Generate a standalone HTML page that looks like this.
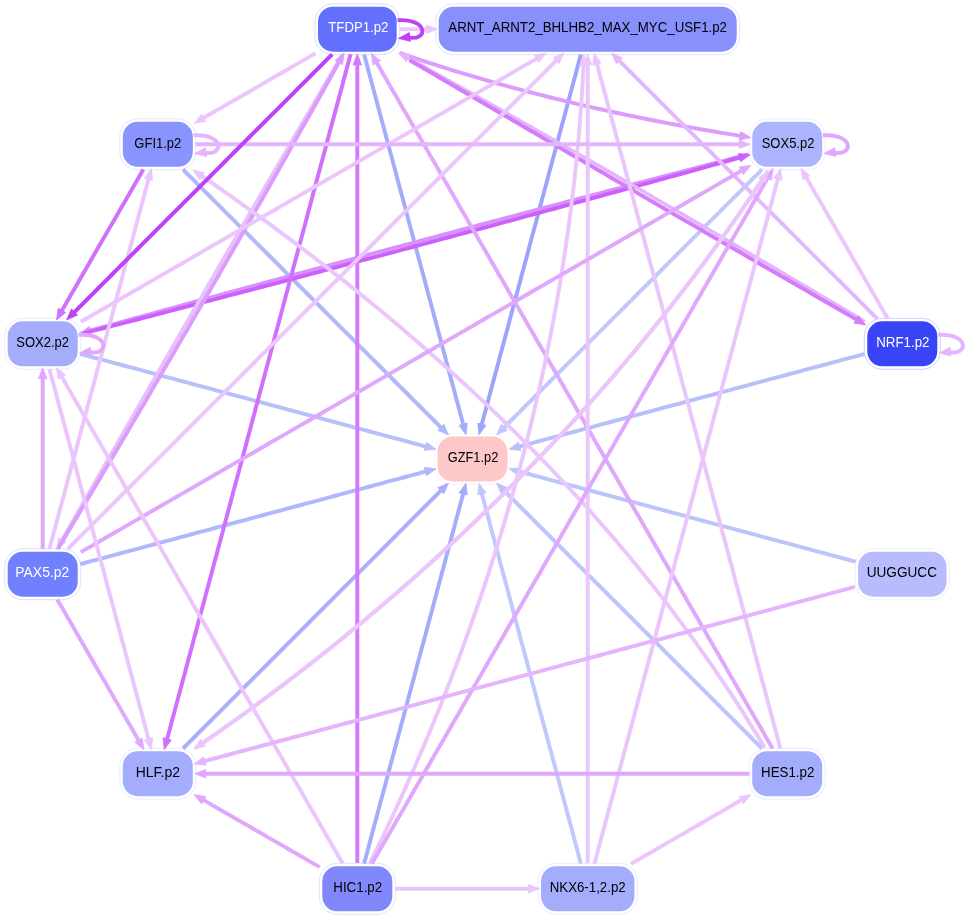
<!DOCTYPE html>
<html><head><meta charset="utf-8"><style>
html,body{margin:0;padding:0;background:#fff;}
svg{display:block;}
text{font-family:"Liberation Sans",sans-serif;font-size:14px;}
</style></head><body>
<svg width="969" height="919" viewBox="0 0 969 919">
<rect width="969" height="919" fill="#fff"/>
<g style="opacity:0.999">
<rect x="315.0" y="3.7" width="84.7" height="51.0" rx="18.0" fill="#fff" stroke="#6370fe" stroke-opacity="0.3" stroke-width="0.8"/>
<rect x="318.0" y="6.7" width="78.7" height="45.0" rx="15" fill="#6370fe"/>
<text transform="translate(358.33,32.46) scale(0.943,1)" fill="#fff" text-anchor="middle">TFDP1.p2</text>
<rect x="435.7" y="3.7" width="304.0" height="51.0" rx="18.0" fill="#fff" stroke="#8890fc" stroke-opacity="0.3" stroke-width="0.8"/>
<rect x="438.7" y="6.7" width="298.0" height="45.0" rx="15" fill="#8890fc"/>
<text transform="translate(587.67,32.46) scale(0.949,1)" fill="#000" text-anchor="middle">ARNT_ARNT2_BHLHB2_MAX_MYC_USF1.p2</text>
<rect x="119.8" y="118.8" width="76.0" height="51.0" rx="18.0" fill="#fff" stroke="#8a94fe" stroke-opacity="0.3" stroke-width="0.8"/>
<rect x="122.8" y="121.8" width="70.0" height="45.0" rx="15" fill="#8a94fe"/>
<text transform="translate(157.84,147.64) scale(0.929,1)" fill="#000" text-anchor="middle">GFI1.p2</text>
<rect x="749.2" y="118.8" width="76.0" height="51.0" rx="18.0" fill="#fff" stroke="#acb4fe" stroke-opacity="0.3" stroke-width="0.8"/>
<rect x="752.2" y="121.8" width="70.0" height="45.0" rx="15" fill="#acb4fe"/>
<text transform="translate(788.06,147.64) scale(0.929,1)" fill="#000" text-anchor="middle">SOX5.p2</text>
<rect x="864.3" y="318.3" width="76.0" height="51.0" rx="18.0" fill="#fff" stroke="#3844f6" stroke-opacity="0.3" stroke-width="0.8"/>
<rect x="867.3" y="321.3" width="70.0" height="45.0" rx="15" fill="#3844f6"/>
<text transform="translate(902.84,347.13) scale(0.952,1)" fill="#fff" text-anchor="middle">NRF1.p2</text>
<rect x="4.7" y="318.3" width="76.0" height="51.0" rx="18.0" fill="#fff" stroke="#a4acfc" stroke-opacity="0.3" stroke-width="0.8"/>
<rect x="7.7" y="321.3" width="70.0" height="45.0" rx="15" fill="#a4acfc"/>
<text transform="translate(42.66,347.13) scale(0.929,1)" fill="#000" text-anchor="middle">SOX2.p2</text>
<rect x="434.5" y="433.5" width="76.0" height="51.0" rx="18.0" fill="#fff" stroke="#fec8c8" stroke-opacity="0.3" stroke-width="0.8"/>
<rect x="437.5" y="436.5" width="70.0" height="45.0" rx="15" fill="#fec8c8"/>
<text transform="translate(473.00,462.30) scale(0.916,1)" fill="#000" text-anchor="middle">GZF1.p2</text>
<rect x="4.7" y="548.7" width="76.0" height="51.0" rx="18.0" fill="#fff" stroke="#7080fe" stroke-opacity="0.3" stroke-width="0.8"/>
<rect x="7.7" y="551.7" width="70.0" height="45.0" rx="15" fill="#7080fe"/>
<text transform="translate(42.26,577.47) scale(0.993,1)" fill="#fff" text-anchor="middle">PAX5.p2</text>
<rect x="855.1" y="548.7" width="94.4" height="51.0" rx="18.0" fill="#fff" stroke="#b8bcfc" stroke-opacity="0.3" stroke-width="0.8"/>
<rect x="858.1" y="551.7" width="88.4" height="45.0" rx="15" fill="#b8bcfc"/>
<text transform="translate(901.84,577.47) scale(0.973,1)" fill="#000" text-anchor="middle">UUGGUCC</text>
<rect x="119.8" y="748.2" width="76.0" height="51.0" rx="18.0" fill="#fff" stroke="#a4acfc" stroke-opacity="0.3" stroke-width="0.8"/>
<rect x="122.8" y="751.2" width="70.0" height="45.0" rx="15" fill="#a4acfc"/>
<text transform="translate(157.84,776.96) scale(0.998,1)" fill="#000" text-anchor="middle">HLF.p2</text>
<rect x="749.2" y="748.2" width="76.0" height="51.0" rx="18.0" fill="#fff" stroke="#a4acfc" stroke-opacity="0.3" stroke-width="0.8"/>
<rect x="752.2" y="751.2" width="70.0" height="45.0" rx="15" fill="#a4acfc"/>
<text transform="translate(787.66,776.96) scale(0.952,1)" fill="#000" text-anchor="middle">HES1.p2</text>
<rect x="319.3" y="863.3" width="76.0" height="51.0" rx="18.0" fill="#fff" stroke="#8088fc" stroke-opacity="0.3" stroke-width="0.8"/>
<rect x="322.3" y="866.3" width="70.0" height="45.0" rx="15" fill="#8088fc"/>
<text transform="translate(357.73,892.14) scale(0.954,1)" fill="#000" text-anchor="middle">HIC1.p2</text>
<rect x="538.0" y="863.3" width="99.4" height="51.0" rx="18.0" fill="#fff" stroke="#a4acfc" stroke-opacity="0.3" stroke-width="0.8"/>
<rect x="541.0" y="866.3" width="93.4" height="45.0" rx="15" fill="#a4acfc"/>
<text transform="translate(587.67,892.14) scale(0.949,1)" fill="#000" text-anchor="middle">NKX6-1,2.p2</text>
</g>
<g stroke-linecap="butt" stroke-linejoin="round">
<path d="M580.9,54.4 L579.3,60.3 L577.7,66.2 L576.2,72.1 L574.6,78.1 L573.0,84.0 L571.4,89.9 L569.8,95.8 L568.2,101.7 L566.7,107.6 L565.1,113.5 L563.5,119.4 L561.9,125.3 L560.3,131.2 L558.7,137.2 L557.2,143.1 L555.6,149.0 L554.0,154.9 L552.4,160.8 L550.8,166.7 L549.2,172.6 L547.7,178.5 L546.1,184.4 L544.5,190.4 L542.9,196.3 L541.3,202.2 L539.7,208.1 L538.1,214.0 L536.6,219.9 L535.0,225.8 L533.4,231.7 L531.8,237.6 L530.2,243.5 L528.6,249.5 L527.1,255.4 L525.5,261.3 L523.9,267.2 L522.3,273.1 L520.7,279.0 L519.1,284.9 L517.6,290.8 L516.0,296.7 L514.4,302.6 L512.8,308.6 L511.2,314.5 L509.6,320.4 L508.1,326.3 L506.5,332.2 L504.9,338.1 L503.3,344.0 L501.7,349.9 L500.1,355.8 L498.6,361.7 L497.0,367.7 L495.4,373.6 L493.8,379.5 L492.2,385.4 L490.6,391.3 L489.1,397.2 L487.5,403.1 L485.9,409.0 L484.3,414.9 L482.7,420.9 L481.4,425.6" stroke="#9ca4fc" stroke-width="3.95" fill="none"/>
<polygon points="479.0,434.8 477.7,423.1 486.0,425.3" fill="#9ca4fc" stroke="#9ca4fc" stroke-width="0.8" stroke-linejoin="miter"/>
<path d="M364.1,54.4 L365.7,60.3 L367.3,66.2 L368.8,72.1 L370.4,78.1 L372.0,84.0 L373.6,89.9 L375.2,95.8 L376.8,101.7 L378.3,107.6 L379.9,113.5 L381.5,119.4 L383.1,125.3 L384.7,131.2 L386.3,137.2 L387.8,143.1 L389.4,149.0 L391.0,154.9 L392.6,160.8 L394.2,166.7 L395.8,172.6 L397.3,178.5 L398.9,184.4 L400.5,190.4 L402.1,196.3 L403.7,202.2 L405.3,208.1 L406.9,214.0 L408.4,219.9 L410.0,225.8 L411.6,231.7 L413.2,237.6 L414.8,243.5 L416.4,249.5 L417.9,255.4 L419.5,261.3 L421.1,267.2 L422.7,273.1 L424.3,279.0 L425.9,284.9 L427.4,290.8 L429.0,296.7 L430.6,302.6 L432.2,308.6 L433.8,314.5 L435.4,320.4 L436.9,326.3 L438.5,332.2 L440.1,338.1 L441.7,344.0 L443.3,349.9 L444.9,355.8 L446.4,361.7 L448.0,367.7 L449.6,373.6 L451.2,379.5 L452.8,385.4 L454.4,391.3 L455.9,397.2 L457.5,403.1 L459.1,409.0 L460.7,414.9 L462.3,420.9 L463.6,425.6" stroke="#a4acfc" stroke-width="3.95" fill="none"/>
<polygon points="466.0,434.8 459.0,425.3 467.3,423.1" fill="#a4acfc" stroke="#a4acfc" stroke-width="0.8" stroke-linejoin="miter"/>
<path d="M183.0,169.5 L187.3,173.8 L191.7,178.2 L196.0,182.5 L200.3,186.8 L204.6,191.1 L209.0,195.5 L213.3,199.8 L217.6,204.1 L221.9,208.4 L226.3,212.8 L230.6,217.1 L234.9,221.4 L239.3,225.8 L243.6,230.1 L247.9,234.4 L252.2,238.7 L256.6,243.1 L260.9,247.4 L265.2,251.7 L269.5,256.0 L273.9,260.4 L278.2,264.7 L282.5,269.0 L286.8,273.3 L291.2,277.7 L295.5,282.0 L299.8,286.3 L304.2,290.7 L308.5,295.0 L312.8,299.3 L317.1,303.6 L321.5,308.0 L325.8,312.3 L330.1,316.6 L334.4,320.9 L338.8,325.3 L343.1,329.6 L347.4,333.9 L351.7,338.2 L356.1,342.6 L360.4,346.9 L364.7,351.2 L369.1,355.6 L373.4,359.9 L377.7,364.2 L382.0,368.5 L386.4,372.9 L390.7,377.2 L395.0,381.5 L399.3,385.8 L403.7,390.2 L408.0,394.5 L412.3,398.8 L416.6,403.1 L421.0,407.5 L425.3,411.8 L429.6,416.1 L434.0,420.5 L438.3,424.8 L441.8,428.3" stroke="#b0b8fc" stroke-width="3.95" fill="none"/>
<polygon points="448.5,435.0 437.7,430.3 443.8,424.2" fill="#b0b8fc" stroke="#b0b8fc" stroke-width="0.8" stroke-linejoin="miter"/>
<path d="M80.3,353.9 L86.2,355.5 L92.1,357.1 L98.0,358.7 L103.9,360.2 L109.8,361.8 L115.7,363.4 L121.6,365.0 L127.6,366.6 L133.5,368.2 L139.4,369.7 L145.3,371.3 L151.2,372.9 L157.1,374.5 L163.0,376.1 L168.9,377.7 L174.8,379.2 L180.7,380.8 L186.7,382.4 L192.6,384.0 L198.5,385.6 L204.4,387.2 L210.3,388.7 L216.2,390.3 L222.1,391.9 L228.0,393.5 L233.9,395.1 L239.9,396.7 L245.8,398.2 L251.7,399.8 L257.6,401.4 L263.5,403.0 L269.4,404.6 L275.3,406.2 L281.2,407.7 L287.1,409.3 L293.0,410.9 L299.0,412.5 L304.9,414.1 L310.8,415.7 L316.7,417.2 L322.6,418.8 L328.5,420.4 L334.4,422.0 L340.3,423.6 L346.2,425.2 L352.1,426.8 L358.1,428.3 L364.0,429.9 L369.9,431.5 L375.8,433.1 L381.7,434.7 L387.6,436.3 L393.5,437.8 L399.4,439.4 L405.3,441.0 L411.2,442.6 L417.2,444.2 L423.1,445.8 L426.8,446.8" stroke="#b8c0fc" stroke-width="3.95" fill="none"/>
<polygon points="436.0,449.2 424.2,450.5 426.5,442.2" fill="#b8c0fc" stroke="#b8c0fc" stroke-width="0.8" stroke-linejoin="miter"/>
<path d="M80.3,564.1 L86.2,562.5 L92.1,560.9 L98.0,559.3 L103.9,557.8 L109.8,556.2 L115.7,554.6 L121.6,553.0 L127.6,551.4 L133.5,549.8 L139.4,548.3 L145.3,546.7 L151.2,545.1 L157.1,543.5 L163.0,541.9 L168.9,540.3 L174.8,538.8 L180.7,537.2 L186.7,535.6 L192.6,534.0 L198.5,532.4 L204.4,530.8 L210.3,529.3 L216.2,527.7 L222.1,526.1 L228.0,524.5 L233.9,522.9 L239.9,521.3 L245.8,519.8 L251.7,518.2 L257.6,516.6 L263.5,515.0 L269.4,513.4 L275.3,511.8 L281.2,510.3 L287.1,508.7 L293.0,507.1 L299.0,505.5 L304.9,503.9 L310.8,502.3 L316.7,500.8 L322.6,499.2 L328.5,497.6 L334.4,496.0 L340.3,494.4 L346.2,492.8 L352.1,491.2 L358.1,489.7 L364.0,488.1 L369.9,486.5 L375.8,484.9 L381.7,483.3 L387.6,481.7 L393.5,480.2 L399.4,478.6 L405.3,477.0 L411.2,475.4 L417.2,473.8 L423.1,472.2 L426.8,471.2" stroke="#b0b8fc" stroke-width="3.95" fill="none"/>
<polygon points="436.0,468.8 426.5,475.8 424.2,467.5" fill="#b0b8fc" stroke="#b0b8fc" stroke-width="0.8" stroke-linejoin="miter"/>
<path d="M183.0,748.5 L187.3,744.2 L191.7,739.8 L196.0,735.5 L200.3,731.2 L204.6,726.9 L209.0,722.5 L213.3,718.2 L217.6,713.9 L221.9,709.6 L226.3,705.2 L230.6,700.9 L234.9,696.6 L239.3,692.2 L243.6,687.9 L247.9,683.6 L252.2,679.3 L256.6,674.9 L260.9,670.6 L265.2,666.3 L269.5,662.0 L273.9,657.6 L278.2,653.3 L282.5,649.0 L286.8,644.7 L291.2,640.3 L295.5,636.0 L299.8,631.7 L304.2,627.3 L308.5,623.0 L312.8,618.7 L317.1,614.4 L321.5,610.0 L325.8,605.7 L330.1,601.4 L334.4,597.1 L338.8,592.7 L343.1,588.4 L347.4,584.1 L351.7,579.8 L356.1,575.4 L360.4,571.1 L364.7,566.8 L369.1,562.4 L373.4,558.1 L377.7,553.8 L382.0,549.5 L386.4,545.1 L390.7,540.8 L395.0,536.5 L399.3,532.2 L403.7,527.8 L408.0,523.5 L412.3,519.2 L416.6,514.9 L421.0,510.5 L425.3,506.2 L429.6,501.9 L434.0,497.5 L438.3,493.2 L441.8,489.7" stroke="#a8b0fc" stroke-width="3.95" fill="none"/>
<polygon points="448.5,483.0 443.8,493.8 437.7,487.7" fill="#a8b0fc" stroke="#a8b0fc" stroke-width="0.8" stroke-linejoin="miter"/>
<path d="M364.1,863.6 L365.7,857.7 L367.3,851.8 L368.8,845.9 L370.4,839.9 L372.0,834.0 L373.6,828.1 L375.2,822.2 L376.8,816.3 L378.3,810.4 L379.9,804.5 L381.5,798.6 L383.1,792.7 L384.7,786.8 L386.3,780.8 L387.8,774.9 L389.4,769.0 L391.0,763.1 L392.6,757.2 L394.2,751.3 L395.8,745.4 L397.3,739.5 L398.9,733.6 L400.5,727.6 L402.1,721.7 L403.7,715.8 L405.3,709.9 L406.9,704.0 L408.4,698.1 L410.0,692.2 L411.6,686.3 L413.2,680.4 L414.8,674.5 L416.4,668.5 L417.9,662.6 L419.5,656.7 L421.1,650.8 L422.7,644.9 L424.3,639.0 L425.9,633.1 L427.4,627.2 L429.0,621.3 L430.6,615.4 L432.2,609.4 L433.8,603.5 L435.4,597.6 L436.9,591.7 L438.5,585.8 L440.1,579.9 L441.7,574.0 L443.3,568.1 L444.9,562.2 L446.4,556.3 L448.0,550.3 L449.6,544.4 L451.2,538.5 L452.8,532.6 L454.4,526.7 L455.9,520.8 L457.5,514.9 L459.1,509.0 L460.7,503.1 L462.3,497.1 L463.6,492.4" stroke="#a4acfc" stroke-width="3.95" fill="none"/>
<polygon points="466.0,483.2 467.3,494.9 459.0,492.7" fill="#a4acfc" stroke="#a4acfc" stroke-width="0.8" stroke-linejoin="miter"/>
<path d="M580.9,863.6 L579.3,857.7 L577.7,851.8 L576.2,845.9 L574.6,839.9 L573.0,834.0 L571.4,828.1 L569.8,822.2 L568.2,816.3 L566.7,810.4 L565.1,804.5 L563.5,798.6 L561.9,792.7 L560.3,786.8 L558.7,780.8 L557.2,774.9 L555.6,769.0 L554.0,763.1 L552.4,757.2 L550.8,751.3 L549.2,745.4 L547.7,739.5 L546.1,733.6 L544.5,727.6 L542.9,721.7 L541.3,715.8 L539.7,709.9 L538.1,704.0 L536.6,698.1 L535.0,692.2 L533.4,686.3 L531.8,680.4 L530.2,674.5 L528.6,668.5 L527.1,662.6 L525.5,656.7 L523.9,650.8 L522.3,644.9 L520.7,639.0 L519.1,633.1 L517.6,627.2 L516.0,621.3 L514.4,615.4 L512.8,609.4 L511.2,603.5 L509.6,597.6 L508.1,591.7 L506.5,585.8 L504.9,579.9 L503.3,574.0 L501.7,568.1 L500.1,562.2 L498.6,556.3 L497.0,550.3 L495.4,544.4 L493.8,538.5 L492.2,532.6 L490.6,526.7 L489.1,520.8 L487.5,514.9 L485.9,509.0 L484.3,503.1 L482.7,497.1 L481.4,492.4" stroke="#c0c8fc" stroke-width="3.95" fill="none"/>
<polygon points="479.0,483.2 486.0,492.7 477.7,494.9" fill="#c0c8fc" stroke="#c0c8fc" stroke-width="0.8" stroke-linejoin="miter"/>
<path d="M762.0,748.5 L757.7,744.2 L753.3,739.8 L749.0,735.5 L744.7,731.2 L740.4,726.9 L736.0,722.5 L731.7,718.2 L727.4,713.9 L723.1,709.6 L718.7,705.2 L714.4,700.9 L710.1,696.6 L705.7,692.2 L701.4,687.9 L697.1,683.6 L692.8,679.3 L688.4,674.9 L684.1,670.6 L679.8,666.3 L675.5,662.0 L671.1,657.6 L666.8,653.3 L662.5,649.0 L658.2,644.7 L653.8,640.3 L649.5,636.0 L645.2,631.7 L640.8,627.3 L636.5,623.0 L632.2,618.7 L627.9,614.4 L623.5,610.0 L619.2,605.7 L614.9,601.4 L610.6,597.1 L606.2,592.7 L601.9,588.4 L597.6,584.1 L593.3,579.8 L588.9,575.4 L584.6,571.1 L580.3,566.8 L575.9,562.4 L571.6,558.1 L567.3,553.8 L563.0,549.5 L558.6,545.1 L554.3,540.8 L550.0,536.5 L545.7,532.2 L541.3,527.8 L537.0,523.5 L532.7,519.2 L528.4,514.9 L524.0,510.5 L519.7,506.2 L515.4,501.9 L511.0,497.5 L506.7,493.2 L503.2,489.7" stroke="#bcc4fc" stroke-width="3.95" fill="none"/>
<polygon points="496.5,483.0 507.3,487.7 501.2,493.8" fill="#bcc4fc" stroke="#bcc4fc" stroke-width="0.8" stroke-linejoin="miter"/>
<path d="M855.6,561.6 L849.7,560.1 L843.8,558.5 L837.9,556.9 L832.0,555.3 L826.0,553.7 L820.1,552.1 L814.2,550.6 L808.3,549.0 L802.4,547.4 L796.5,545.8 L790.6,544.2 L784.7,542.6 L778.8,541.1 L772.8,539.5 L766.9,537.9 L761.0,536.3 L755.1,534.7 L749.2,533.1 L743.3,531.6 L737.4,530.0 L731.5,528.4 L725.6,526.8 L719.7,525.2 L713.7,523.6 L707.8,522.1 L701.9,520.5 L696.0,518.9 L690.1,517.3 L684.2,515.7 L678.3,514.1 L672.4,512.6 L666.5,511.0 L660.6,509.4 L654.6,507.8 L648.7,506.2 L642.8,504.6 L636.9,503.1 L631.0,501.5 L625.1,499.9 L619.2,498.3 L613.3,496.7 L607.4,495.1 L601.5,493.6 L595.5,492.0 L589.6,490.4 L583.7,488.8 L577.8,487.2 L571.9,485.6 L566.0,484.1 L560.1,482.5 L554.2,480.9 L548.3,479.3 L542.3,477.7 L536.4,476.1 L530.5,474.5 L524.6,473.0 L518.2,471.2" stroke="#bcc4fc" stroke-width="3.95" fill="none"/>
<polygon points="509.0,468.8 520.8,467.5 518.5,475.8" fill="#bcc4fc" stroke="#bcc4fc" stroke-width="0.8" stroke-linejoin="miter"/>
<path d="M864.7,353.9 L858.8,355.5 L852.9,357.1 L847.0,358.7 L841.1,360.2 L835.2,361.8 L829.3,363.4 L823.4,365.0 L817.4,366.6 L811.5,368.2 L805.6,369.7 L799.7,371.3 L793.8,372.9 L787.9,374.5 L782.0,376.1 L776.1,377.7 L770.2,379.2 L764.3,380.8 L758.3,382.4 L752.4,384.0 L746.5,385.6 L740.6,387.2 L734.7,388.7 L728.8,390.3 L722.9,391.9 L717.0,393.5 L711.1,395.1 L705.1,396.7 L699.2,398.2 L693.3,399.8 L687.4,401.4 L681.5,403.0 L675.6,404.6 L669.7,406.2 L663.8,407.7 L657.9,409.3 L652.0,410.9 L646.0,412.5 L640.1,414.1 L634.2,415.7 L628.3,417.2 L622.4,418.8 L616.5,420.4 L610.6,422.0 L604.7,423.6 L598.8,425.2 L592.9,426.8 L586.9,428.3 L581.0,429.9 L575.1,431.5 L569.2,433.1 L563.3,434.7 L557.4,436.3 L551.5,437.8 L545.6,439.4 L539.7,441.0 L533.8,442.6 L527.8,444.2 L521.9,445.8 L518.2,446.8" stroke="#b8c0fc" stroke-width="3.95" fill="none"/>
<polygon points="509.0,449.2 518.5,442.2 520.8,450.5" fill="#b8c0fc" stroke="#b8c0fc" stroke-width="0.8" stroke-linejoin="miter"/>
<path d="M762.0,169.5 L757.7,173.8 L753.3,178.2 L749.0,182.5 L744.7,186.8 L740.4,191.1 L736.0,195.5 L731.7,199.8 L727.4,204.1 L723.1,208.4 L718.7,212.8 L714.4,217.1 L710.1,221.4 L705.7,225.8 L701.4,230.1 L697.1,234.4 L692.8,238.7 L688.4,243.1 L684.1,247.4 L679.8,251.7 L675.5,256.0 L671.1,260.4 L666.8,264.7 L662.5,269.0 L658.2,273.3 L653.8,277.7 L649.5,282.0 L645.2,286.3 L640.8,290.7 L636.5,295.0 L632.2,299.3 L627.9,303.6 L623.5,308.0 L619.2,312.3 L614.9,316.6 L610.6,320.9 L606.2,325.3 L601.9,329.6 L597.6,333.9 L593.3,338.2 L588.9,342.6 L584.6,346.9 L580.3,351.2 L575.9,355.6 L571.6,359.9 L567.3,364.2 L563.0,368.5 L558.6,372.9 L554.3,377.2 L550.0,381.5 L545.7,385.8 L541.3,390.2 L537.0,394.5 L532.7,398.8 L528.4,403.1 L524.0,407.5 L519.7,411.8 L515.4,416.1 L511.0,420.5 L506.7,424.8 L503.2,428.3" stroke="#c0c8fc" stroke-width="3.95" fill="none"/>
<polygon points="496.5,435.0 501.2,424.2 507.3,430.3" fill="#c0c8fc" stroke="#c0c8fc" stroke-width="0.8" stroke-linejoin="miter"/>
<path d="M748.6,154.3 L742.4,155.9 L736.2,157.5 L730.0,159.2 L723.7,160.8 L717.5,162.4 L711.3,164.0 L705.1,165.6 L698.9,167.2 L692.7,168.9 L686.4,170.5 L680.2,172.1 L674.0,173.7 L667.8,175.4 L661.6,177.0 L655.4,178.6 L649.2,180.2 L643.0,181.9 L636.7,183.5 L630.5,185.1 L624.3,186.8 L618.1,188.4 L611.9,190.0 L605.7,191.7 L599.5,193.3 L593.3,194.9 L587.0,196.6 L580.8,198.2 L574.6,199.8 L568.4,201.5 L562.2,203.1 L556.0,204.8 L549.8,206.4 L543.6,208.0 L537.4,209.7 L531.2,211.3 L524.9,213.0 L518.7,214.6 L512.5,216.3 L506.3,217.9 L500.1,219.6 L493.9,221.2 L487.7,222.9 L481.5,224.5 L475.3,226.2 L469.1,227.8 L462.9,229.5 L456.7,231.1 L450.5,232.8 L444.3,234.5 L438.0,236.1 L431.8,237.8 L425.6,239.4 L419.4,241.1 L413.2,242.8 L407.0,244.4 L400.8,246.1 L394.6,247.7 L388.4,249.4 L382.2,251.1 L376.0,252.7 L369.8,254.4 L363.6,256.1 L357.4,257.8 L351.2,259.4 L345.0,261.1 L338.8,262.8 L332.6,264.4 L326.4,266.1 L320.2,267.8 L314.0,269.5 L307.8,271.1 L301.6,272.8 L295.4,274.5 L289.2,276.2 L283.0,277.9 L276.8,279.6 L270.6,281.2 L264.4,282.9 L258.2,284.6 L252.0,286.3 L245.8,288.0 L239.6,289.7 L233.4,291.4 L227.2,293.0 L221.0,294.7 L214.8,296.4 L208.6,298.1 L202.4,299.8 L196.2,301.5 L190.0,303.2 L183.8,304.9 L177.6,306.6 L171.5,308.3 L165.3,310.0 L159.1,311.7 L152.9,313.4 L146.7,315.1 L140.5,316.8 L134.3,318.5 L128.1,320.2 L121.9,321.9 L115.7,323.6 L109.5,325.3 L103.3,327.0 L97.1,328.7 L90.9,330.5 L89.0,331.0" stroke="#d890fc" stroke-width="3.95" fill="none"/>
<polygon points="79.8,333.5 89.3,326.5 91.6,334.7" fill="#d890fc" stroke="#d890fc" stroke-width="0.8" stroke-linejoin="miter"/>
<path d="M81.2,333.9 L87.5,332.3 L93.7,330.7 L99.9,329.1 L106.1,327.5 L112.3,325.9 L118.6,324.3 L124.8,322.7 L131.0,321.1 L137.2,319.5 L143.4,317.9 L149.6,316.3 L155.9,314.6 L162.1,313.0 L168.3,311.4 L174.5,309.8 L180.7,308.2 L186.9,306.6 L193.2,304.9 L199.4,303.3 L205.6,301.7 L211.8,300.1 L218.0,298.4 L224.2,296.8 L230.4,295.2 L236.7,293.6 L242.9,291.9 L249.1,290.3 L255.3,288.7 L261.5,287.0 L267.7,285.4 L273.9,283.8 L280.1,282.1 L286.4,280.5 L292.6,278.8 L298.8,277.2 L305.0,275.6 L311.2,273.9 L317.4,272.3 L323.6,270.6 L329.8,269.0 L336.0,267.3 L342.2,265.7 L348.4,264.0 L354.7,262.4 L360.9,260.7 L367.1,259.1 L373.3,257.4 L379.5,255.8 L385.7,254.1 L391.9,252.5 L398.1,250.8 L404.3,249.1 L410.5,247.5 L416.7,245.8 L422.9,244.2 L429.1,242.5 L435.3,240.8 L441.5,239.2 L447.7,237.5 L453.9,235.8 L460.1,234.2 L466.3,232.5 L472.5,230.8 L478.7,229.1 L484.9,227.5 L491.1,225.8 L497.3,224.1 L503.5,222.4 L509.7,220.8 L515.9,219.1 L522.1,217.4 L528.3,215.7 L534.5,214.0 L540.7,212.3 L546.9,210.7 L553.1,209.0 L559.3,207.3 L565.5,205.6 L571.7,203.9 L577.9,202.2 L584.1,200.5 L590.3,198.8 L596.5,197.1 L602.7,195.4 L608.9,193.7 L615.1,192.0 L621.3,190.3 L627.5,188.6 L633.7,186.9 L639.9,185.2 L646.1,183.5 L652.2,181.8 L658.4,180.1 L664.6,178.4 L670.8,176.7 L677.0,175.0 L683.2,173.3 L689.4,171.6 L695.6,169.8 L701.8,168.1 L708.0,166.4 L714.2,164.7 L720.3,163.0 L726.5,161.3 L732.7,159.5 L738.9,157.8 L740.9,157.3" stroke="#cc60fc" stroke-width="3.95" fill="none"/>
<polygon points="750.0,154.7 740.6,161.8 738.3,153.5" fill="#cc60fc" stroke="#cc60fc" stroke-width="0.8" stroke-linejoin="miter"/>
<path d="M399.4,29.2 L405.4,29.2 L411.5,29.2 L417.5,29.2 L423.6,29.2 L427.9,29.2" stroke="#eac6fc" stroke-width="3.95" fill="none"/>
<polygon points="437.4,29.2 426.4,33.5 426.4,24.9" fill="#eac6fc" stroke="#eac6fc" stroke-width="0.8" stroke-linejoin="miter"/>
<path d="M315.4,53.3 L310.2,56.4 L305.0,59.4 L299.7,62.4 L294.5,65.4 L289.3,68.5 L284.0,71.5 L278.8,74.5 L273.5,77.5 L268.3,80.6 L263.1,83.6 L257.8,86.6 L252.6,89.6 L247.4,92.7 L242.1,95.7 L236.9,98.7 L231.6,101.7 L226.4,104.7 L221.2,107.8 L215.9,110.8 L210.7,113.8 L205.5,116.8 L202.5,118.6" stroke="#eac6fc" stroke-width="3.95" fill="none"/>
<polygon points="194.2,123.3 201.6,114.1 205.9,121.5" fill="#eac6fc" stroke="#eac6fc" stroke-width="0.8" stroke-linejoin="miter"/>
<path d="M350.6,54.3 L348.8,60.8 L347.1,67.3 L345.4,73.8 L343.6,80.3 L341.9,86.9 L340.1,93.4 L338.4,99.9 L336.6,106.4 L334.9,112.9 L333.1,119.4 L331.4,125.9 L329.6,132.5 L327.9,139.0 L326.2,145.5 L324.4,152.0 L322.7,158.5 L320.9,165.0 L319.2,171.5 L317.4,178.1 L315.7,184.6 L313.9,191.1 L312.2,197.6 L310.4,204.1 L308.7,210.6 L307.0,217.1 L305.2,223.7 L303.5,230.2 L301.7,236.7 L300.0,243.2 L298.2,249.7 L296.5,256.2 L294.7,262.7 L293.0,269.3 L291.2,275.8 L289.5,282.3 L287.8,288.8 L286.0,295.3 L284.3,301.8 L282.5,308.4 L280.8,314.9 L279.0,321.4 L277.3,327.9 L275.5,334.4 L273.8,340.9 L272.0,347.4 L270.3,354.0 L268.6,360.5 L266.8,367.0 L265.1,373.5 L263.3,380.0 L261.6,386.5 L259.8,393.0 L258.1,399.6 L256.3,406.1 L254.6,412.6 L252.8,419.1 L251.1,425.6 L249.4,432.1 L247.6,438.6 L245.9,445.2 L244.1,451.7 L242.4,458.2 L240.6,464.7 L238.9,471.2 L237.1,477.7 L235.4,484.2 L233.6,490.8 L231.9,497.3 L230.2,503.8 L228.4,510.3 L226.7,516.8 L224.9,523.3 L223.2,529.8 L221.4,536.4 L219.7,542.9 L217.9,549.4 L216.2,555.9 L214.4,562.4 L212.7,568.9 L211.0,575.4 L209.2,582.0 L207.5,588.5 L205.7,595.0 L204.0,601.5 L202.2,608.0 L200.5,614.5 L198.7,621.0 L197.0,627.6 L195.2,634.1 L193.5,640.6 L191.8,647.1 L190.0,653.6 L188.3,660.1 L186.5,666.6 L184.8,673.2 L183.0,679.7 L181.3,686.2 L179.5,692.7 L177.8,699.2 L176.0,705.7 L174.3,712.2 L172.5,718.8 L170.8,725.3 L169.1,731.8 L167.3,738.3 L166.8,740.3" stroke="#d070fc" stroke-width="3.95" fill="none"/>
<polygon points="164.3,749.5 163.0,737.7 171.3,740.0" fill="#d070fc" stroke="#d070fc" stroke-width="0.8" stroke-linejoin="miter"/>
<path d="M399.6,52.9 L405.5,54.9 L411.3,56.9 L417.2,58.9 L423.1,60.8 L429.1,62.8 L435.0,64.7 L440.9,66.6 L446.8,68.4 L452.8,70.3 L458.7,72.1 L464.7,73.9 L470.6,75.7 L476.6,77.4 L482.5,79.2 L488.5,80.9 L494.5,82.6 L500.5,84.3 L506.5,85.9 L512.5,87.6 L518.5,89.2 L524.5,90.8 L530.5,92.3 L536.5,93.9 L542.5,95.4 L548.5,97.0 L554.6,98.5 L560.6,99.9 L566.6,101.4 L572.7,102.9 L578.7,104.3 L584.8,105.7 L590.8,107.1 L596.9,108.5 L603.0,109.8 L609.0,111.1 L615.1,112.5 L621.2,113.8 L627.3,115.1 L633.4,116.3 L639.4,117.6 L645.5,118.8 L651.6,120.0 L657.7,121.2 L663.8,122.4 L669.9,123.6 L676.0,124.7 L682.2,125.9 L688.3,127.0 L694.4,128.1 L700.5,129.2 L706.6,130.3 L712.8,131.3 L718.9,132.4 L725.0,133.4 L731.1,134.4 L737.3,135.4 L741.4,136.1" stroke="#dc9cfc" stroke-width="3.95" fill="none"/>
<polygon points="750.8,137.6 739.2,140.1 740.6,131.6" fill="#dc9cfc" stroke="#dc9cfc" stroke-width="0.8" stroke-linejoin="miter"/>
<path d="M864.7,321.5 L858.9,318.0 L853.1,314.5 L847.2,311.1 L841.4,307.6 L835.5,304.1 L829.7,300.7 L823.8,297.2 L818.0,293.7 L812.1,290.3 L806.3,286.8 L800.4,283.4 L794.6,279.9 L788.7,276.4 L782.8,273.0 L777.0,269.5 L771.1,266.1 L765.3,262.6 L759.4,259.2 L753.5,255.7 L747.7,252.3 L741.8,248.9 L736.0,245.4 L730.1,242.0 L724.2,238.5 L718.4,235.1 L712.5,231.7 L706.6,228.2 L700.7,224.8 L694.9,221.4 L689.0,218.0 L683.1,214.5 L677.3,211.1 L671.4,207.7 L665.5,204.3 L659.6,200.9 L653.7,197.4 L647.9,194.0 L642.0,190.6 L636.1,187.2 L630.2,183.8 L624.3,180.4 L618.4,177.0 L612.5,173.6 L606.6,170.2 L600.8,166.8 L594.9,163.4 L589.0,160.1 L583.1,156.7 L577.2,153.3 L571.3,149.9 L565.4,146.5 L559.5,143.2 L553.6,139.8 L547.7,136.4 L541.7,133.1 L535.8,129.7 L529.9,126.3 L524.0,123.0 L518.1,119.6 L512.2,116.3 L506.3,112.9 L500.4,109.6 L494.4,106.2 L488.5,102.9 L482.6,99.6 L476.7,96.2 L470.7,92.9 L464.8,89.6 L458.9,86.3 L453.0,82.9 L447.0,79.6 L441.1,76.3 L435.2,73.0 L429.2,69.7 L423.3,66.4 L417.3,63.1 L411.4,59.8 L407.0,57.4" stroke="#e4b4fc" stroke-width="3.5" fill="none"/>
<polygon points="398.6,52.8 410.4,54.3 406.2,61.9" fill="#e4b4fc" stroke="#e4b4fc" stroke-width="0.8" stroke-linejoin="miter"/>
<path d="M409.5,60.0 L414.9,63.2 L420.3,66.3 L425.7,69.5 L431.1,72.6 L436.6,75.8 L442.0,78.9 L447.4,82.1 L452.8,85.3 L458.2,88.4 L463.6,91.6 L469.0,94.7 L474.4,97.9 L479.8,101.0 L485.3,104.2 L490.7,107.4 L496.1,110.5 L501.5,113.7 L506.9,116.8 L512.3,120.0 L517.7,123.1 L523.1,126.3 L528.5,129.4 L534.0,132.6 L539.4,135.8 L544.8,138.9 L550.2,142.1 L555.6,145.2 L561.0,148.4 L566.4,151.5 L571.8,154.7 L577.2,157.9 L582.7,161.0 L588.1,164.2 L593.5,167.3 L598.9,170.5 L604.3,173.6 L609.7,176.8 L615.1,180.0 L620.5,183.1 L626.0,186.3 L631.4,189.4 L636.8,192.6 L642.2,195.7 L647.6,198.9 L653.2,202.1 L658.8,205.4 L664.5,208.7 L670.2,212.0 L675.9,215.2 L681.5,218.5 L687.2,221.8 L692.9,225.1 L698.6,228.3 L704.2,231.6 L709.9,234.9 L715.6,238.2 L721.3,241.5 L727.0,244.7 L732.6,248.0 L738.3,251.3 L744.0,254.6 L749.7,257.9 L755.3,261.1 L761.0,264.4 L766.7,267.7 L772.4,271.0 L778.0,274.2 L783.7,277.5 L789.4,280.8 L795.1,284.1 L800.7,287.4 L806.4,290.6 L812.1,293.9 L817.8,297.2 L823.5,300.5 L829.1,303.7 L834.8,307.0 L840.5,310.3 L846.2,313.6 L851.8,316.9 L857.5,320.1" stroke="#d47cfc" stroke-width="4" fill="none"/>
<polygon points="865.7,324.9 854.0,323.1 858.3,315.6" fill="#d47cfc" stroke="#d47cfc" stroke-width="0.8" stroke-linejoin="miter"/>
<path d="M342.5,54.5 L339.3,59.9 L336.1,65.4 L333.0,70.8 L329.8,76.2 L326.6,81.7 L323.4,87.1 L320.3,92.5 L317.1,98.0 L313.9,103.4 L310.8,108.9 L307.6,114.3 L304.4,119.7 L301.2,125.2 L298.1,130.6 L294.9,136.0 L291.7,141.5 L288.6,146.9 L285.4,152.4 L282.3,157.8 L279.1,163.2 L275.9,168.7 L272.8,174.1 L269.6,179.6 L266.4,185.0 L263.3,190.4 L260.1,195.9 L257.0,201.3 L253.8,206.8 L250.6,212.2 L247.5,217.7 L244.3,223.1 L241.2,228.6 L238.0,234.0 L234.9,239.4 L231.7,244.9 L228.6,250.3 L225.4,255.8 L222.2,261.2 L219.1,266.7 L215.9,272.1 L212.8,277.6 L209.6,283.0 L206.5,288.5 L203.4,293.9 L200.2,299.4 L197.1,304.8 L193.9,310.3 L190.8,315.7 L187.6,321.2 L184.5,326.6 L181.3,332.1 L178.2,337.5 L175.1,343.0 L171.9,348.4 L168.8,353.9 L165.6,359.3 L162.5,364.8 L159.4,370.3 L156.2,375.7 L153.1,381.2 L149.9,386.6 L146.8,392.1 L143.7,397.5 L140.5,403.0 L137.4,408.4 L134.3,413.9 L131.1,419.4 L128.0,424.8 L124.9,430.3 L121.7,435.7 L118.6,441.2 L115.5,446.7 L112.4,452.1 L109.2,457.6 L106.1,463.0 L103.0,468.5 L99.8,474.0 L96.7,479.4 L93.6,484.9 L90.5,490.4 L87.4,495.8 L84.2,501.3 L81.1,506.7 L78.0,512.2 L74.9,517.7 L71.7,523.1 L68.6,528.6 L65.5,534.1 L62.4,539.5 L61.4,541.3" stroke="#e8c0fc" stroke-width="3.95" fill="none"/>
<polygon points="56.7,549.6 58.4,537.9 65.9,542.1" fill="#e8c0fc" stroke="#e8c0fc" stroke-width="0.8" stroke-linejoin="miter"/>
<path d="M57.8,549.0 L61.0,543.6 L64.3,538.2 L67.5,532.8 L70.7,527.4 L74.0,522.0 L77.2,516.6 L80.4,511.2 L83.6,505.8 L86.8,500.4 L90.1,495.0 L93.3,489.6 L96.5,484.2 L99.7,478.7 L102.9,473.3 L106.1,467.9 L109.3,462.5 L112.5,457.1 L115.7,451.7 L118.9,446.2 L122.1,440.8 L125.3,435.4 L128.5,430.0 L131.7,424.6 L134.9,419.1 L138.1,413.7 L141.3,408.3 L144.5,402.9 L147.7,397.4 L150.8,392.0 L154.0,386.6 L157.2,381.1 L160.4,375.7 L163.5,370.3 L166.7,364.8 L169.9,359.4 L173.1,353.9 L176.2,348.5 L179.4,343.1 L182.5,337.6 L185.7,332.2 L188.9,326.7 L192.0,321.3 L195.2,315.8 L198.3,310.4 L201.5,304.9 L204.6,299.5 L207.8,294.0 L210.9,288.6 L214.0,283.1 L217.2,277.7 L220.3,272.2 L223.4,266.8 L226.6,261.3 L229.7,255.8 L232.8,250.4 L236.0,244.9 L239.1,239.5 L242.2,234.0 L245.3,228.5 L248.4,223.1 L251.6,217.6 L254.7,212.1 L257.8,206.6 L260.9,201.2 L264.0,195.7 L267.1,190.2 L270.2,184.8 L273.3,179.3 L276.4,173.8 L279.5,168.3 L282.6,162.8 L285.7,157.4 L288.8,151.9 L291.9,146.4 L295.0,140.9 L298.1,135.4 L301.1,129.9 L304.2,124.5 L307.3,119.0 L310.4,113.5 L313.5,108.0 L316.5,102.5 L319.6,97.0 L322.7,91.5 L325.7,86.0 L328.8,80.5 L331.9,75.0 L334.9,69.5 L338.0,64.0 L339.5,61.3" stroke="#dc9cfc" stroke-width="3.95" fill="none"/>
<polygon points="344.1,53.0 342.5,64.7 335.0,60.5" fill="#dc9cfc" stroke="#dc9cfc" stroke-width="0.8" stroke-linejoin="miter"/>
<path d="M357.3,863.0 L357.3,856.6 L357.3,850.2 L357.3,843.7 L357.3,837.3 L357.3,830.8 L357.3,824.4 L357.3,817.9 L357.3,811.5 L357.3,805.0 L357.3,798.6 L357.3,792.1 L357.3,785.7 L357.3,779.2 L357.3,772.8 L357.3,766.3 L357.3,759.9 L357.3,753.4 L357.3,747.0 L357.3,740.5 L357.3,734.1 L357.3,727.6 L357.3,721.2 L357.3,714.8 L357.3,708.3 L357.3,701.9 L357.3,695.4 L357.3,689.0 L357.3,682.5 L357.3,676.1 L357.3,669.6 L357.3,663.2 L357.3,656.7 L357.3,650.3 L357.3,643.8 L357.3,637.4 L357.3,630.9 L357.3,624.5 L357.3,618.0 L357.3,611.6 L357.3,605.1 L357.3,598.7 L357.3,592.2 L357.3,585.8 L357.3,579.4 L357.3,572.9 L357.3,566.5 L357.3,560.0 L357.3,553.6 L357.3,547.1 L357.3,540.7 L357.3,534.2 L357.3,527.8 L357.3,521.3 L357.3,514.9 L357.3,508.4 L357.3,502.0 L357.3,495.5 L357.3,489.1 L357.3,482.6 L357.3,476.2 L357.3,469.7 L357.3,463.3 L357.3,456.9 L357.3,450.4 L357.3,444.0 L357.3,437.5 L357.3,431.1 L357.3,424.6 L357.3,418.2 L357.3,411.7 L357.3,405.3 L357.3,398.8 L357.3,392.4 L357.3,385.9 L357.3,379.5 L357.3,373.0 L357.3,366.6 L357.3,360.1 L357.3,353.7 L357.3,347.2 L357.3,340.8 L357.3,334.3 L357.3,327.9 L357.3,321.5 L357.3,315.0 L357.3,308.6 L357.3,302.1 L357.3,295.7 L357.3,289.2 L357.3,282.8 L357.3,276.3 L357.3,269.9 L357.3,263.4 L357.3,257.0 L357.3,250.5 L357.3,244.1 L357.3,237.6 L357.3,231.2 L357.3,224.7 L357.3,218.3 L357.3,211.8 L357.3,205.4 L357.3,198.9 L357.3,192.5 L357.3,186.1 L357.3,179.6 L357.3,173.2 L357.3,166.7 L357.3,160.3 L357.3,153.8 L357.3,147.4 L357.3,140.9 L357.3,134.5 L357.3,128.0 L357.3,121.6 L357.3,115.1 L357.3,108.7 L357.3,102.2 L357.3,95.8 L357.3,89.3 L357.3,82.9 L357.3,76.4 L357.3,70.0 L357.3,63.4" stroke="#d478fc" stroke-width="3.95" fill="none"/>
<polygon points="357.3,53.9 361.6,64.9 353.0,64.9" fill="#d478fc" stroke="#d478fc" stroke-width="0.8" stroke-linejoin="miter"/>
<path d="M772.7,748.5 L769.4,743.0 L766.2,737.4 L763.0,731.8 L759.8,726.2 L756.5,720.6 L753.3,715.0 L750.1,709.4 L746.9,703.9 L743.6,698.3 L740.4,692.7 L737.2,687.1 L734.0,681.5 L730.7,675.9 L727.5,670.4 L724.3,664.8 L721.1,659.2 L717.9,653.6 L714.6,648.0 L711.4,642.4 L708.2,636.9 L705.0,631.3 L701.7,625.7 L698.5,620.1 L695.3,614.5 L692.1,608.9 L688.8,603.4 L685.6,597.8 L682.4,592.2 L679.2,586.6 L675.9,581.0 L672.7,575.4 L669.5,569.9 L666.3,564.3 L663.0,558.7 L659.8,553.1 L656.6,547.5 L653.4,541.9 L650.2,536.4 L646.9,530.8 L643.7,525.2 L640.5,519.6 L637.3,514.0 L634.0,508.4 L630.8,502.9 L627.6,497.3 L624.4,491.7 L621.1,486.1 L617.9,480.5 L614.7,474.9 L611.5,469.3 L608.2,463.8 L605.0,458.2 L601.8,452.6 L598.6,447.0 L595.3,441.4 L592.1,435.8 L588.9,430.3 L585.7,424.7 L582.5,419.1 L579.2,413.5 L576.0,407.9 L572.8,402.3 L569.6,396.8 L566.3,391.2 L563.1,385.6 L559.9,380.0 L556.7,374.4 L553.4,368.8 L550.2,363.3 L547.0,357.7 L543.8,352.1 L540.5,346.5 L537.3,340.9 L534.1,335.3 L530.9,329.8 L527.6,324.2 L524.4,318.6 L521.2,313.0 L518.0,307.4 L514.8,301.8 L511.5,296.3 L508.3,290.7 L505.1,285.1 L501.9,279.5 L498.6,273.9 L495.4,268.3 L492.2,262.7 L489.0,257.2 L485.7,251.6 L482.5,246.0 L479.3,240.4 L476.1,234.8 L472.8,229.2 L469.6,223.7 L466.4,218.1 L463.2,212.5 L459.9,206.9 L456.7,201.3 L453.5,195.7 L450.3,190.2 L447.1,184.6 L443.8,179.0 L440.6,173.4 L437.4,167.8 L434.2,162.2 L430.9,156.7 L427.7,151.1 L424.5,145.5 L421.3,139.9 L418.0,134.3 L414.8,128.7 L411.6,123.2 L408.4,117.6 L405.1,112.0 L401.9,106.4 L398.7,100.8 L395.5,95.2 L392.2,89.7 L389.0,84.1 L385.8,78.5 L382.6,72.9 L379.4,67.3 L376.0,61.6" stroke="#e0a8fc" stroke-width="3.95" fill="none"/>
<polygon points="371.3,53.4 380.5,60.7 373.1,65.0" fill="#e0a8fc" stroke="#e0a8fc" stroke-width="0.8" stroke-linejoin="miter"/>
<path d="M80.8,321.8 L86.3,318.7 L91.7,315.5 L97.2,312.4 L102.6,309.2 L108.1,306.1 L113.5,302.9 L119.0,299.8 L124.4,296.6 L129.9,293.5 L135.3,290.3 L140.8,287.2 L146.2,284.0 L151.7,280.9 L157.1,277.7 L162.6,274.6 L168.0,271.5 L173.5,268.3 L178.9,265.2 L184.4,262.0 L189.8,258.9 L195.3,255.7 L200.7,252.6 L206.2,249.4 L211.6,246.3 L217.1,243.1 L222.5,240.0 L228.0,236.8 L233.4,233.7 L238.9,230.5 L244.3,227.4 L249.8,224.3 L255.2,221.1 L260.7,218.0 L266.1,214.8 L271.6,211.7 L277.0,208.5 L282.5,205.4 L287.9,202.2 L293.4,199.1 L298.8,195.9 L304.3,192.8 L309.7,189.6 L315.2,186.5 L320.6,183.3 L326.1,180.2 L331.5,177.1 L337.0,173.9 L342.4,170.8 L347.9,167.6 L353.3,164.5 L358.8,161.3 L364.2,158.2 L369.7,155.0 L375.1,151.9 L380.6,148.7 L386.0,145.6 L391.5,142.4 L396.9,139.3 L402.4,136.1 L407.8,133.0 L413.3,129.9 L418.7,126.7 L424.2,123.6 L429.6,120.4 L435.1,117.3 L440.5,114.1 L446.0,111.0 L451.4,107.8 L456.9,104.7 L462.3,101.5 L467.8,98.4 L473.2,95.2 L478.7,92.1 L484.1,88.9 L489.6,85.8 L495.0,82.7 L500.5,79.5 L505.9,76.4 L511.4,73.2 L516.8,70.1 L522.3,66.9 L527.7,63.8 L533.2,60.6 L537.9,57.9" stroke="#eac6fc" stroke-width="3.95" fill="none"/>
<polygon points="546.1,53.2 538.7,62.4 534.4,54.9" fill="#eac6fc" stroke="#eac6fc" stroke-width="0.8" stroke-linejoin="miter"/>
<path d="M67.9,549.0 L72.6,544.2 L77.4,539.4 L82.2,534.7 L86.9,529.9 L91.7,525.1 L96.5,520.4 L101.3,515.6 L106.0,510.8 L110.8,506.0 L115.6,501.3 L120.3,496.5 L125.1,491.7 L129.9,487.0 L134.6,482.2 L139.4,477.4 L144.2,472.7 L148.9,467.9 L153.7,463.1 L158.5,458.4 L163.2,453.6 L168.0,448.8 L172.8,444.1 L177.6,439.3 L182.3,434.5 L187.1,429.7 L191.9,425.0 L196.6,420.2 L201.4,415.4 L206.2,410.7 L210.9,405.9 L215.7,401.1 L220.5,396.4 L225.2,391.6 L230.0,386.8 L234.8,382.1 L239.5,377.3 L244.3,372.5 L249.1,367.8 L253.9,363.0 L258.6,358.2 L263.4,353.4 L268.2,348.7 L272.9,343.9 L277.7,339.1 L282.5,334.4 L287.2,329.6 L292.0,324.8 L296.8,320.1 L301.5,315.3 L306.3,310.5 L311.1,305.8 L315.9,301.0 L320.6,296.2 L325.4,291.4 L330.2,286.7 L334.9,281.9 L339.7,277.1 L344.5,272.4 L349.2,267.6 L354.0,262.8 L358.8,258.1 L363.5,253.3 L368.3,248.5 L373.1,243.8 L377.8,239.0 L382.6,234.2 L387.4,229.5 L392.2,224.7 L396.9,219.9 L401.7,215.1 L406.5,210.4 L411.2,205.6 L416.0,200.8 L420.8,196.1 L425.5,191.3 L430.3,186.5 L435.1,181.8 L439.8,177.0 L444.6,172.2 L449.4,167.5 L454.1,162.7 L458.9,157.9 L463.7,153.2 L468.5,148.4 L473.2,143.6 L478.0,138.8 L482.8,134.1 L487.5,129.3 L492.3,124.5 L497.1,119.8 L501.8,115.0 L506.6,110.2 L511.4,105.5 L516.1,100.7 L520.9,95.9 L525.7,91.2 L530.4,86.4 L535.2,81.6 L540.0,76.9 L544.8,72.1 L549.5,67.3 L554.3,62.5 L557.1,59.7" stroke="#eac6fc" stroke-width="3.95" fill="none"/>
<polygon points="563.8,53.0 559.1,63.8 553.0,57.7" fill="#eac6fc" stroke="#eac6fc" stroke-width="0.8" stroke-linejoin="miter"/>
<path d="M369.6,863.7 L372.7,857.4 L375.8,851.1 L378.9,844.8 L382.0,838.4 L385.0,832.1 L388.0,825.7 L391.0,819.3 L394.0,813.0 L396.9,806.6 L399.9,800.2 L402.8,793.8 L405.7,787.4 L408.5,780.9 L411.4,774.5 L414.2,768.1 L417.0,761.6 L419.8,755.1 L422.6,748.7 L425.3,742.2 L428.1,735.7 L430.8,729.2 L433.5,722.7 L436.1,716.2 L438.8,709.7 L441.4,703.1 L444.0,696.6 L446.6,690.0 L449.1,683.5 L451.7,676.9 L454.2,670.4 L456.7,663.8 L459.2,657.2 L461.6,650.6 L464.0,644.0 L466.4,637.4 L468.8,630.8 L471.2,624.1 L473.5,617.5 L475.8,610.9 L478.1,604.2 L480.4,597.6 L482.7,590.9 L484.9,584.2 L487.1,577.5 L489.3,570.9 L491.4,564.2 L493.6,557.5 L495.7,550.8 L497.8,544.0 L499.9,537.3 L501.9,530.6 L503.9,523.9 L505.9,517.1 L507.9,510.4 L509.9,503.6 L511.8,496.9 L513.7,490.1 L515.6,483.3 L517.4,476.5 L519.3,469.8 L521.1,463.0 L522.9,456.2 L524.6,449.4 L526.4,442.6 L528.1,435.7 L529.8,428.9 L531.5,422.1 L533.1,415.3 L534.7,408.4 L536.3,401.6 L537.9,394.7 L539.5,387.9 L541.0,381.0 L542.5,374.1 L544.0,367.3 L545.4,360.4 L546.9,353.5 L548.3,346.6 L549.6,339.7 L551.0,332.8 L552.3,325.9 L553.6,319.0 L554.9,312.1 L556.2,305.2 L557.4,298.3 L558.6,291.4 L559.8,284.4 L560.9,277.5 L562.0,270.6 L563.2,263.6 L564.2,256.7 L565.3,249.7 L566.3,242.8 L567.3,235.8 L568.3,228.8 L569.2,221.9 L570.1,214.9 L571.0,207.9 L571.9,200.9 L572.8,194.0 L573.6,187.0 L574.4,180.0 L575.1,173.0 L575.9,166.0 L576.6,159.0 L577.3,152.0 L577.9,145.0 L578.6,138.0 L579.2,130.9 L579.7,123.9 L580.3,116.9 L580.8,109.9 L581.3,102.9 L581.8,95.8 L582.2,88.8 L582.7,81.8 L583.1,74.7 L583.4,67.7 L583.6,64.5" stroke="#eac6fc" stroke-width="3.95" fill="none"/>
<polygon points="584.0,55.0 587.8,66.2 579.2,65.8" fill="#eac6fc" stroke="#eac6fc" stroke-width="0.8" stroke-linejoin="miter"/>
<path d="M587.7,863.0 L587.7,856.6 L587.7,850.2 L587.7,843.7 L587.7,837.3 L587.7,830.8 L587.7,824.4 L587.7,817.9 L587.7,811.5 L587.7,805.0 L587.7,798.6 L587.7,792.1 L587.7,785.7 L587.7,779.2 L587.7,772.8 L587.7,766.3 L587.7,759.9 L587.7,753.4 L587.7,747.0 L587.7,740.5 L587.7,734.1 L587.7,727.6 L587.7,721.2 L587.7,714.8 L587.7,708.3 L587.7,701.9 L587.7,695.4 L587.7,689.0 L587.7,682.5 L587.7,676.1 L587.7,669.6 L587.7,663.2 L587.7,656.7 L587.7,650.3 L587.7,643.8 L587.7,637.4 L587.7,630.9 L587.7,624.5 L587.7,618.0 L587.7,611.6 L587.7,605.1 L587.7,598.7 L587.7,592.2 L587.7,585.8 L587.7,579.4 L587.7,572.9 L587.7,566.5 L587.7,560.0 L587.7,553.6 L587.7,547.1 L587.7,540.7 L587.7,534.2 L587.7,527.8 L587.7,521.3 L587.7,514.9 L587.7,508.4 L587.7,502.0 L587.7,495.5 L587.7,489.1 L587.7,482.6 L587.7,476.2 L587.7,469.7 L587.7,463.3 L587.7,456.9 L587.7,450.4 L587.7,444.0 L587.7,437.5 L587.7,431.1 L587.7,424.6 L587.7,418.2 L587.7,411.7 L587.7,405.3 L587.7,398.8 L587.7,392.4 L587.7,385.9 L587.7,379.5 L587.7,373.0 L587.7,366.6 L587.7,360.1 L587.7,353.7 L587.7,347.2 L587.7,340.8 L587.7,334.3 L587.7,327.9 L587.7,321.5 L587.7,315.0 L587.7,308.6 L587.7,302.1 L587.7,295.7 L587.7,289.2 L587.7,282.8 L587.7,276.3 L587.7,269.9 L587.7,263.4 L587.7,257.0 L587.7,250.5 L587.7,244.1 L587.7,237.6 L587.7,231.2 L587.7,224.7 L587.7,218.3 L587.7,211.8 L587.7,205.4 L587.7,198.9 L587.7,192.5 L587.7,186.1 L587.7,179.6 L587.7,173.2 L587.7,166.7 L587.7,160.3 L587.7,153.8 L587.7,147.4 L587.7,140.9 L587.7,134.5 L587.7,128.0 L587.7,121.6 L587.7,115.1 L587.7,108.7 L587.7,102.2 L587.7,95.8 L587.7,89.3 L587.7,82.9 L587.7,76.4 L587.7,70.0 L587.7,63.4" stroke="#eac6fc" stroke-width="3.95" fill="none"/>
<polygon points="587.7,53.9 592.0,64.9 583.4,64.9" fill="#eac6fc" stroke="#eac6fc" stroke-width="0.8" stroke-linejoin="miter"/>
<path d="M780.4,748.5 L778.7,742.0 L776.9,735.5 L775.2,729.0 L773.4,722.5 L771.7,716.0 L770.0,709.4 L768.2,702.9 L766.5,696.4 L764.7,689.9 L763.0,683.4 L761.2,676.9 L759.5,670.4 L757.7,663.8 L756.0,657.3 L754.2,650.8 L752.5,644.3 L750.8,637.8 L749.0,631.3 L747.3,624.8 L745.5,618.2 L743.8,611.7 L742.0,605.2 L740.3,598.7 L738.5,592.2 L736.8,585.7 L735.0,579.2 L733.3,572.6 L731.6,566.1 L729.8,559.6 L728.1,553.1 L726.3,546.6 L724.6,540.1 L722.8,533.6 L721.1,527.0 L719.3,520.5 L717.6,514.0 L715.8,507.5 L714.1,501.0 L712.4,494.5 L710.6,488.0 L708.9,481.4 L707.1,474.9 L705.4,468.4 L703.6,461.9 L701.9,455.4 L700.1,448.9 L698.4,442.4 L696.6,435.8 L694.9,429.3 L693.2,422.8 L691.4,416.3 L689.7,409.8 L687.9,403.3 L686.2,396.8 L684.4,390.2 L682.7,383.7 L680.9,377.2 L679.2,370.7 L677.4,364.2 L675.7,357.7 L674.0,351.2 L672.2,344.6 L670.5,338.1 L668.7,331.6 L667.0,325.1 L665.2,318.6 L663.5,312.1 L661.7,305.6 L660.0,299.0 L658.2,292.5 L656.5,286.0 L654.8,279.5 L653.0,273.0 L651.3,266.5 L649.5,260.0 L647.8,253.4 L646.0,246.9 L644.3,240.4 L642.5,233.9 L640.8,227.4 L639.0,220.9 L637.3,214.4 L635.6,207.8 L633.8,201.3 L632.1,194.8 L630.3,188.3 L628.6,181.8 L626.8,175.3 L625.1,168.8 L623.3,162.2 L621.6,155.7 L619.8,149.2 L618.1,142.7 L616.4,136.2 L614.6,129.7 L612.9,123.2 L611.1,116.6 L609.4,110.1 L607.6,103.6 L605.9,97.1 L604.1,90.6 L602.4,84.1 L600.6,77.6 L598.9,71.0 L597.2,64.5 L596.6,62.5" stroke="#eac6fc" stroke-width="3.95" fill="none"/>
<polygon points="594.2,53.4 601.2,62.9 592.9,65.1" fill="#eac6fc" stroke="#eac6fc" stroke-width="0.8" stroke-linejoin="miter"/>
<path d="M877.2,318.7 L872.8,314.3 L868.5,310.0 L864.2,305.7 L859.9,301.3 L855.5,297.0 L851.2,292.7 L846.9,288.4 L842.6,284.0 L838.2,279.7 L833.9,275.4 L829.6,271.1 L825.2,266.7 L820.9,262.4 L816.6,258.1 L812.3,253.8 L807.9,249.4 L803.6,245.1 L799.3,240.8 L795.0,236.4 L790.6,232.1 L786.3,227.8 L782.0,223.5 L777.7,219.1 L773.3,214.8 L769.0,210.5 L764.7,206.2 L760.3,201.8 L756.0,197.5 L751.7,193.2 L747.4,188.9 L743.0,184.5 L738.7,180.2 L734.4,175.9 L730.1,171.5 L725.7,167.2 L721.4,162.9 L717.1,158.6 L712.8,154.2 L708.4,149.9 L704.1,145.6 L699.8,141.3 L695.4,136.9 L691.1,132.6 L686.8,128.3 L682.5,124.0 L678.1,119.6 L673.8,115.3 L669.5,111.0 L665.2,106.6 L660.8,102.3 L656.5,98.0 L652.2,93.7 L647.9,89.3 L643.5,85.0 L639.2,80.7 L634.9,76.4 L630.5,72.0 L626.2,67.7 L621.9,63.4 L618.4,59.9" stroke="#e4b8fc" stroke-width="3.95" fill="none"/>
<polygon points="611.7,53.2 622.5,57.9 616.4,64.0" fill="#e4b8fc" stroke="#e4b8fc" stroke-width="0.8" stroke-linejoin="miter"/>
<path d="M195.6,144.3 L201.9,144.3 L208.2,144.3 L214.5,144.3 L220.8,144.3 L227.1,144.3 L233.4,144.3 L239.6,144.3 L245.9,144.3 L252.2,144.3 L258.5,144.3 L264.8,144.3 L271.1,144.3 L277.4,144.3 L283.7,144.3 L290.0,144.3 L296.3,144.3 L302.6,144.3 L308.9,144.3 L315.2,144.3 L321.5,144.3 L327.8,144.3 L334.0,144.3 L340.3,144.3 L346.6,144.3 L352.9,144.3 L359.2,144.3 L365.5,144.3 L371.8,144.3 L378.1,144.3 L384.4,144.3 L390.7,144.3 L397.0,144.3 L403.3,144.3 L409.6,144.3 L415.9,144.3 L422.2,144.3 L428.4,144.3 L434.7,144.3 L441.0,144.3 L447.3,144.3 L453.6,144.3 L459.9,144.3 L466.2,144.3 L472.5,144.3 L478.8,144.3 L485.1,144.3 L491.4,144.3 L497.7,144.3 L504.0,144.3 L510.3,144.3 L516.6,144.3 L522.8,144.3 L529.1,144.3 L535.4,144.3 L541.7,144.3 L548.0,144.3 L554.3,144.3 L560.6,144.3 L566.9,144.3 L573.2,144.3 L579.5,144.3 L585.8,144.3 L592.1,144.3 L598.4,144.3 L604.7,144.3 L611.0,144.3 L617.2,144.3 L623.5,144.3 L629.8,144.3 L636.1,144.3 L642.4,144.3 L648.7,144.3 L655.0,144.3 L661.3,144.3 L667.6,144.3 L673.9,144.3 L680.2,144.3 L686.5,144.3 L692.8,144.3 L699.1,144.3 L705.4,144.3 L711.6,144.3 L717.9,144.3 L724.2,144.3 L730.5,144.3 L736.8,144.3 L740.7,144.3" stroke="#e4b4fc" stroke-width="3.95" fill="none"/>
<polygon points="750.2,144.3 739.2,148.6 739.2,140.0" fill="#e4b4fc" stroke="#e4b4fc" stroke-width="0.8" stroke-linejoin="miter"/>
<path d="M143.3,169.5 L140.3,174.8 L137.3,180.0 L134.2,185.2 L131.2,190.5 L128.2,195.7 L125.2,200.9 L122.1,206.2 L119.1,211.4 L116.1,216.7 L113.1,221.9 L110.0,227.1 L107.0,232.4 L104.0,237.6 L101.0,242.8 L97.9,248.1 L94.9,253.3 L91.9,258.5 L88.9,263.8 L85.9,269.0 L82.8,274.3 L79.8,279.5 L76.8,284.7 L73.8,290.0 L70.7,295.2 L67.7,300.4 L64.7,305.7 L61.2,311.7" stroke="#d070fc" stroke-width="3.95" fill="none"/>
<polygon points="56.5,319.9 58.3,308.2 65.7,312.5" fill="#d070fc" stroke="#d070fc" stroke-width="0.8" stroke-linejoin="miter"/>
<path d="M49.4,548.9 L51.0,543.0 L52.6,537.1 L54.2,531.2 L55.8,525.3 L57.3,519.4 L58.9,513.5 L60.5,507.5 L62.1,501.6 L63.7,495.7 L65.3,489.8 L66.8,483.9 L68.4,478.0 L70.0,472.1 L71.6,466.2 L73.2,460.3 L74.8,454.4 L76.4,448.4 L77.9,442.5 L79.5,436.6 L81.1,430.7 L82.7,424.8 L84.3,418.9 L85.9,413.0 L87.4,407.1 L89.0,401.2 L90.6,395.3 L92.2,389.3 L93.8,383.4 L95.4,377.5 L96.9,371.6 L98.5,365.7 L100.1,359.8 L101.7,353.9 L103.3,348.0 L104.9,342.1 L106.4,336.2 L108.0,330.2 L109.6,324.3 L111.2,318.4 L112.8,312.5 L114.4,306.6 L115.9,300.7 L117.5,294.8 L119.1,288.9 L120.7,283.0 L122.3,277.0 L123.9,271.1 L125.4,265.2 L127.0,259.3 L128.6,253.4 L130.2,247.5 L131.8,241.6 L133.4,235.7 L134.9,229.8 L136.5,223.9 L138.1,217.9 L139.7,212.0 L141.3,206.1 L142.9,200.2 L144.4,194.3 L146.0,188.4 L147.6,182.5 L148.9,177.7" stroke="#eac6fc" stroke-width="3.95" fill="none"/>
<polygon points="151.4,168.5 152.7,180.3 144.4,178.0" fill="#eac6fc" stroke="#eac6fc" stroke-width="0.8" stroke-linejoin="miter"/>
<path d="M764.6,747.6 L761.1,741.7 L757.5,735.8 L753.9,729.9 L750.3,724.1 L746.6,718.3 L743.0,712.4 L739.3,706.7 L735.6,700.9 L731.8,695.1 L728.0,689.4 L724.2,683.7 L720.4,678.0 L716.5,672.3 L712.7,666.6 L708.8,661.0 L704.8,655.4 L700.9,649.8 L696.9,644.2 L692.9,638.7 L688.9,633.1 L684.8,627.6 L680.7,622.1 L676.6,616.6 L672.5,611.1 L668.4,605.7 L664.2,600.3 L660.0,594.9 L655.8,589.5 L651.5,584.1 L647.3,578.8 L643.0,573.4 L638.7,568.1 L634.3,562.8 L630.0,557.5 L625.6,552.3 L621.2,547.1 L616.8,541.8 L612.3,536.6 L607.9,531.4 L603.4,526.3 L598.9,521.1 L594.4,516.0 L589.8,510.9 L585.3,505.8 L580.7,500.7 L576.1,495.7 L571.4,490.6 L566.8,485.6 L562.1,480.6 L557.4,475.6 L552.7,470.7 L548.0,465.7 L543.3,460.8 L538.5,455.9 L533.7,451.0 L528.9,446.1 L524.1,441.3 L519.3,436.4 L514.4,431.6 L509.5,426.8 L504.6,422.0 L499.7,417.2 L494.8,412.5 L489.9,407.7 L484.9,403.0 L479.9,398.3 L474.9,393.6 L469.9,388.9 L464.9,384.3 L459.9,379.7 L454.8,375.0 L449.7,370.4 L444.6,365.8 L439.5,361.3 L434.4,356.7 L429.3,352.2 L424.1,347.7 L419.0,343.2 L413.8,338.7 L408.6,334.2 L403.4,329.8 L398.2,325.3 L392.9,320.9 L387.7,316.5 L382.4,312.1 L377.1,307.7 L371.8,303.4 L366.5,299.1 L361.2,294.7 L355.9,290.4 L350.5,286.1 L345.2,281.9 L339.8,277.6 L334.4,273.4 L329.0,269.1 L323.6,264.9 L318.2,260.7 L312.8,256.5 L307.3,252.4 L301.9,248.2 L296.4,244.1 L291.0,240.0 L285.5,235.9 L280.0,231.8 L274.5,227.7 L269.0,223.7 L263.4,219.6 L257.9,215.6 L252.3,211.6 L246.8,207.6 L241.2,203.6 L235.6,199.7 L230.1,195.7 L224.5,191.8 L218.9,187.8 L213.3,183.9 L207.6,180.0 L200.8,175.4" stroke="#eac6fc" stroke-width="3.95" fill="none"/>
<polygon points="193.0,170.0 204.5,172.7 199.6,179.8" fill="#eac6fc" stroke="#eac6fc" stroke-width="0.8" stroke-linejoin="miter"/>
<path d="M80.8,552.1 L86.4,548.9 L92.0,545.7 L97.6,542.5 L103.2,539.3 L108.7,536.0 L114.3,532.8 L119.9,529.6 L125.5,526.4 L131.1,523.1 L136.7,519.9 L142.2,516.7 L147.8,513.5 L153.4,510.2 L159.0,507.0 L164.6,503.8 L170.2,500.6 L175.7,497.3 L181.3,494.1 L186.9,490.9 L192.5,487.7 L198.1,484.4 L203.7,481.2 L209.2,478.0 L214.8,474.8 L220.4,471.6 L226.0,468.3 L231.6,465.1 L237.2,461.9 L242.7,458.7 L248.3,455.4 L253.9,452.2 L259.5,449.0 L265.1,445.8 L270.7,442.5 L276.2,439.3 L281.8,436.1 L287.4,432.9 L293.0,429.6 L298.6,426.4 L304.2,423.2 L309.8,420.0 L315.3,416.7 L320.9,413.5 L326.5,410.3 L332.1,407.1 L337.7,403.9 L343.3,400.6 L348.8,397.4 L354.4,394.2 L360.0,391.0 L365.6,387.7 L371.2,384.5 L376.8,381.3 L382.3,378.1 L387.9,374.8 L393.5,371.6 L399.1,368.4 L404.7,365.2 L410.3,361.9 L415.8,358.7 L421.4,355.5 L427.0,352.3 L432.6,349.0 L438.2,345.8 L443.8,342.6 L449.3,339.4 L454.9,336.2 L460.5,332.9 L466.1,329.7 L471.7,326.5 L477.3,323.3 L482.8,320.0 L488.4,316.8 L494.0,313.6 L499.6,310.4 L505.2,307.1 L510.8,303.9 L516.4,300.7 L521.9,297.5 L527.5,294.2 L533.1,291.0 L538.7,287.8 L544.3,284.6 L549.9,281.3 L555.4,278.1 L561.0,274.9 L566.6,271.7 L572.2,268.5 L577.8,265.2 L583.4,262.0 L588.9,258.8 L594.5,255.6 L600.1,252.3 L605.7,249.1 L611.3,245.9 L616.9,242.7 L622.4,239.4 L628.0,236.2 L633.6,233.0 L639.2,229.8 L644.8,226.5 L650.4,223.3 L655.9,220.1 L661.5,216.9 L667.1,213.6 L672.7,210.4 L678.3,207.2 L683.9,204.0 L689.4,200.8 L695.0,197.5 L700.6,194.3 L706.2,191.1 L711.8,187.9 L717.4,184.6 L722.9,181.4 L728.5,178.2 L734.1,175.0 L739.7,171.7 L742.6,170.0" stroke="#e0a8fc" stroke-width="3.95" fill="none"/>
<polygon points="750.9,165.3 743.5,174.5 739.2,167.1" fill="#e0a8fc" stroke="#e0a8fc" stroke-width="0.8" stroke-linejoin="miter"/>
<path d="M371.8,863.7 L375.1,858.1 L378.3,852.5 L381.5,847.0 L384.7,841.4 L388.0,835.8 L391.2,830.2 L394.4,824.6 L397.6,819.0 L400.8,813.5 L404.1,807.9 L407.3,802.3 L410.5,796.7 L413.7,791.1 L417.0,785.5 L420.2,780.0 L423.4,774.4 L426.6,768.8 L429.9,763.2 L433.1,757.6 L436.3,752.0 L439.5,746.5 L442.8,740.9 L446.0,735.3 L449.2,729.7 L452.4,724.1 L455.7,718.5 L458.9,712.9 L462.1,707.4 L465.3,701.8 L468.5,696.2 L471.8,690.6 L475.0,685.0 L478.2,679.4 L481.4,673.9 L484.7,668.3 L487.9,662.7 L491.1,657.1 L494.3,651.5 L497.6,645.9 L500.8,640.4 L504.0,634.8 L507.2,629.2 L510.5,623.6 L513.7,618.0 L516.9,612.4 L520.1,606.9 L523.4,601.3 L526.6,595.7 L529.8,590.1 L533.0,584.5 L536.2,578.9 L539.5,573.4 L542.7,567.8 L545.9,562.2 L549.1,556.6 L552.4,551.0 L555.6,545.4 L558.8,539.9 L562.0,534.3 L565.3,528.7 L568.5,523.1 L571.7,517.5 L574.9,511.9 L578.2,506.4 L581.4,500.8 L584.6,495.2 L587.8,489.6 L591.0,484.0 L594.3,478.4 L597.5,472.8 L600.7,467.3 L603.9,461.7 L607.2,456.1 L610.4,450.5 L613.6,444.9 L616.8,439.3 L620.1,433.8 L623.3,428.2 L626.5,422.6 L629.7,417.0 L633.0,411.4 L636.2,405.8 L639.4,400.3 L642.6,394.7 L645.9,389.1 L649.1,383.5 L652.3,377.9 L655.5,372.3 L658.7,366.8 L662.0,361.2 L665.2,355.6 L668.4,350.0 L671.6,344.4 L674.9,338.8 L678.1,333.3 L681.3,327.7 L684.5,322.1 L687.8,316.5 L691.0,310.9 L694.2,305.3 L697.4,299.8 L700.7,294.2 L703.9,288.6 L707.1,283.0 L710.3,277.4 L713.6,271.8 L716.8,266.2 L720.0,260.7 L723.2,255.1 L726.4,249.5 L729.7,243.9 L732.9,238.3 L736.1,232.7 L739.3,227.2 L742.6,221.6 L745.8,216.0 L749.0,210.4 L752.2,204.8 L755.5,199.2 L758.7,193.7 L761.9,188.1 L765.1,182.5 L768.4,176.8" stroke="#e0a8fc" stroke-width="3.95" fill="none"/>
<polygon points="773.2,168.5 771.4,180.2 764.0,175.9" fill="#e0a8fc" stroke="#e0a8fc" stroke-width="0.8" stroke-linejoin="miter"/>
<path d="M195.1,748.2 L200.8,744.4 L206.4,740.5 L212.0,736.6 L217.6,732.6 L223.2,728.7 L228.8,724.7 L234.3,720.8 L239.9,716.8 L245.4,712.8 L250.9,708.7 L256.5,704.7 L262.0,700.6 L267.5,696.6 L272.9,692.5 L278.4,688.4 L283.9,684.3 L289.3,680.1 L294.7,676.0 L300.1,671.8 L305.6,667.6 L310.9,663.4 L316.3,659.2 L321.7,655.0 L327.0,650.7 L332.4,646.4 L337.7,642.2 L343.0,637.9 L348.3,633.5 L353.6,629.2 L358.9,624.9 L364.1,620.5 L369.4,616.1 L374.6,611.7 L379.8,607.3 L385.0,602.9 L390.2,598.4 L395.4,594.0 L400.5,589.5 L405.7,585.0 L410.8,580.5 L415.9,576.0 L421.0,571.4 L426.1,566.9 L431.2,562.3 L436.3,557.7 L441.3,553.1 L446.3,548.5 L451.3,543.9 L456.3,539.2 L461.3,534.6 L466.3,529.9 L471.2,525.2 L476.2,520.5 L481.1,515.8 L486.0,511.0 L490.9,506.3 L495.8,501.5 L500.7,496.7 L505.5,491.9 L510.3,487.1 L515.1,482.2 L519.9,477.4 L524.7,472.5 L529.5,467.6 L534.3,462.7 L539.0,457.8 L543.7,452.9 L548.4,447.9 L553.1,443.0 L557.8,438.0 L562.4,433.0 L567.1,428.0 L571.7,423.0 L576.3,417.9 L580.9,412.9 L585.4,407.8 L590.0,402.7 L594.5,397.6 L599.0,392.5 L603.5,387.4 L608.0,382.2 L612.5,377.1 L616.9,371.9 L621.4,366.7 L625.8,361.5 L630.2,356.3 L634.6,351.1 L638.9,345.8 L643.3,340.5 L647.6,335.3 L651.9,330.0 L656.2,324.6 L660.5,319.3 L664.7,314.0 L669.0,308.6 L673.2,303.3 L677.4,297.9 L681.6,292.5 L685.7,287.0 L689.9,281.6 L694.0,276.2 L698.1,270.7 L702.2,265.2 L706.3,259.7 L710.3,254.2 L714.3,248.7 L718.4,243.2 L722.4,237.6 L726.3,232.1 L730.3,226.5 L734.2,220.9 L738.1,215.3 L742.0,209.6 L745.9,204.0 L749.8,198.3 L753.6,192.7 L757.4,187.0 L761.2,181.3 L762.8,178.9" stroke="#eac6fc" stroke-width="3.95" fill="none"/>
<polygon points="768.0,171.0 765.5,182.6 758.4,177.8" fill="#eac6fc" stroke="#eac6fc" stroke-width="0.8" stroke-linejoin="miter"/>
<path d="M768.0,171.0 L764.2,176.7 L760.5,182.4 L756.7,188.1 L752.8,193.8 L749.0,199.5 L745.1,205.1 L741.3,210.8 L737.4,216.4 L733.4,222.0 L729.5,227.6 L725.5,233.2 L721.6,238.7 L717.6,244.3 L713.5,249.8 L709.5,255.3 L705.5,260.8 L701.4,266.3 L697.3,271.8 L693.2,277.3 L689.0,282.7 L684.9,288.1 L680.7,293.5 L676.6,298.9 L672.3,304.3 L668.1,309.7 L663.9,315.0 L659.6,320.4 L655.4,325.7 L651.1,331.0 L646.7,336.3 L642.4,341.6 L638.1,346.9 L633.7,352.1 L629.3,357.3 L624.9,362.6 L620.5,367.8 L616.1,372.9 L611.6,378.1 L607.1,383.3 L602.6,388.4 L598.1,393.5 L593.6,398.7 L589.1,403.8 L584.5,408.8 L580.0,413.9 L575.4,418.9 L570.8,424.0 L566.1,429.0 L561.5,434.0 L556.8,439.0 L552.2,444.0 L547.5,448.9 L542.8,453.9 L538.0,458.8 L533.3,463.7 L528.5,468.6 L523.8,473.5 L519.0,478.3 L514.2,483.2 L509.4,488.0 L504.5,492.8 L499.7,497.6 L494.8,502.4 L489.9,507.2 L485.0,512.0 L480.1,516.7 L475.2,521.4 L470.3,526.1 L465.3,530.8 L460.3,535.5 L455.3,540.2 L450.3,544.8 L445.3,549.4 L440.3,554.1 L435.2,558.7 L430.2,563.2 L425.1,567.8 L420.0,572.4 L414.9,576.9 L409.8,581.4 L404.7,585.9 L399.5,590.4 L394.3,594.9 L389.2,599.3 L384.0,603.8 L378.8,608.2 L373.5,612.6 L368.3,617.0 L363.1,621.4 L357.8,625.7 L352.5,630.1 L347.2,634.4 L341.9,638.7 L336.6,643.0 L331.3,647.3 L326.0,651.6 L320.6,655.8 L315.2,660.0 L309.9,664.2 L304.5,668.4 L299.1,672.6 L293.6,676.8 L288.2,680.9 L282.8,685.1 L277.3,689.2 L271.8,693.3 L266.4,697.4 L260.9,701.4 L255.4,705.5 L249.8,709.5 L244.3,713.6 L238.8,717.6 L233.2,721.5 L227.6,725.5 L222.1,729.5 L216.5,733.4 L210.9,737.3 L205.3,741.2 L201.8,743.6" stroke="#eac6fc" stroke-width="3.95" fill="none"/>
<polygon points="194.0,749.0 200.6,739.2 205.5,746.3" fill="#eac6fc" stroke="#eac6fc" stroke-width="0.8" stroke-linejoin="miter"/>
<path d="M594.4,863.7 L596.2,857.2 L597.9,850.7 L599.6,844.2 L601.4,837.7 L603.1,831.1 L604.9,824.6 L606.6,818.1 L608.4,811.6 L610.1,805.1 L611.9,798.6 L613.6,792.1 L615.4,785.5 L617.1,779.0 L618.8,772.5 L620.6,766.0 L622.3,759.5 L624.1,753.0 L625.8,746.5 L627.6,739.9 L629.3,733.4 L631.1,726.9 L632.8,720.4 L634.6,713.9 L636.3,707.4 L638.0,700.9 L639.8,694.3 L641.5,687.8 L643.3,681.3 L645.0,674.8 L646.8,668.3 L648.5,661.8 L650.3,655.3 L652.0,648.7 L653.8,642.2 L655.5,635.7 L657.2,629.2 L659.0,622.7 L660.7,616.2 L662.5,609.6 L664.2,603.1 L666.0,596.6 L667.7,590.1 L669.5,583.6 L671.2,577.1 L673.0,570.6 L674.7,564.0 L676.4,557.5 L678.2,551.0 L679.9,544.5 L681.7,538.0 L683.4,531.5 L685.2,525.0 L686.9,518.4 L688.7,511.9 L690.4,505.4 L692.2,498.9 L693.9,492.4 L695.6,485.9 L697.4,479.4 L699.1,472.8 L700.9,466.3 L702.6,459.8 L704.4,453.3 L706.1,446.8 L707.9,440.3 L709.6,433.8 L711.4,427.2 L713.1,420.7 L714.8,414.2 L716.6,407.7 L718.3,401.2 L720.1,394.7 L721.8,388.2 L723.6,381.6 L725.3,375.1 L727.1,368.6 L728.8,362.1 L730.6,355.6 L732.3,349.1 L734.0,342.6 L735.8,336.0 L737.5,329.5 L739.3,323.0 L741.0,316.5 L742.8,310.0 L744.5,303.5 L746.3,297.0 L748.0,290.4 L749.8,283.9 L751.5,277.4 L753.2,270.9 L755.0,264.4 L756.7,257.9 L758.5,251.4 L760.2,244.8 L762.0,238.3 L763.7,231.8 L765.5,225.3 L767.2,218.8 L769.0,212.3 L770.7,205.8 L772.5,199.2 L774.2,192.7 L775.9,186.2 L777.7,179.7 L778.2,177.7" stroke="#eac6fc" stroke-width="3.95" fill="none"/>
<polygon points="780.7,168.5 782.0,180.3 773.7,178.0" fill="#eac6fc" stroke="#eac6fc" stroke-width="0.8" stroke-linejoin="miter"/>
<path d="M887.8,318.6 L884.8,313.4 L881.7,308.2 L878.7,302.9 L875.7,297.7 L872.7,292.5 L869.7,287.2 L866.6,282.0 L863.6,276.7 L860.6,271.5 L857.6,266.3 L854.5,261.0 L851.5,255.8 L848.5,250.6 L845.5,245.3 L842.4,240.1 L839.4,234.9 L836.4,229.6 L833.4,224.4 L830.4,219.1 L827.3,213.9 L824.3,208.7 L821.3,203.4 L818.3,198.2 L815.2,193.0 L812.2,187.7 L809.2,182.5 L805.7,176.5" stroke="#eac6fc" stroke-width="3.95" fill="none"/>
<polygon points="801.0,168.3 810.2,175.7 802.8,180.0" fill="#eac6fc" stroke="#eac6fc" stroke-width="0.8" stroke-linejoin="miter"/>
<path d="M42.7,549.1 L42.7,543.1 L42.7,537.0 L42.7,531.0 L42.7,524.9 L42.7,518.9 L42.7,512.8 L42.7,506.8 L42.7,500.8 L42.7,494.7 L42.7,488.7 L42.7,482.6 L42.7,476.6 L42.7,470.5 L42.7,464.5 L42.7,458.4 L42.7,452.4 L42.7,446.3 L42.7,440.3 L42.7,434.2 L42.7,428.2 L42.7,422.1 L42.7,416.1 L42.7,410.1 L42.7,404.0 L42.7,398.0 L42.7,391.9 L42.7,385.9 L42.7,379.8 L42.7,377.2" stroke="#e0a8fc" stroke-width="3.95" fill="none"/>
<polygon points="42.7,367.7 47.0,378.7 38.4,378.7" fill="#e0a8fc" stroke="#e0a8fc" stroke-width="0.8" stroke-linejoin="miter"/>
<path d="M342.8,863.6 L339.6,858.2 L336.5,852.7 L333.3,847.3 L330.2,841.8 L327.0,836.4 L323.9,830.9 L320.7,825.5 L317.6,820.0 L314.5,814.6 L311.3,809.1 L308.2,803.7 L305.0,798.2 L301.9,792.8 L298.7,787.3 L295.6,781.9 L292.4,776.4 L289.3,771.0 L286.1,765.5 L283.0,760.1 L279.8,754.6 L276.7,749.2 L273.5,743.7 L270.4,738.3 L267.3,732.8 L264.1,727.4 L261.0,721.9 L257.8,716.5 L254.7,711.0 L251.5,705.6 L248.4,700.1 L245.2,694.7 L242.1,689.2 L238.9,683.8 L235.8,678.3 L232.6,672.9 L229.5,667.4 L226.3,662.0 L223.2,656.5 L220.1,651.1 L216.9,645.6 L213.8,640.2 L210.6,634.7 L207.5,629.3 L204.3,623.8 L201.2,618.4 L198.0,612.9 L194.9,607.5 L191.7,602.0 L188.6,596.6 L185.4,591.1 L182.3,585.7 L179.1,580.2 L176.0,574.8 L172.9,569.3 L169.7,563.9 L166.6,558.4 L163.4,553.0 L160.3,547.5 L157.1,542.1 L154.0,536.6 L150.8,531.2 L147.7,525.7 L144.5,520.3 L141.4,514.8 L138.2,509.4 L135.1,503.9 L131.9,498.5 L128.8,493.0 L125.7,487.6 L122.5,482.1 L119.4,476.7 L116.2,471.2 L113.1,465.8 L109.9,460.3 L106.8,454.9 L103.6,449.4 L100.5,444.0 L97.3,438.5 L94.2,433.1 L91.0,427.6 L87.9,422.2 L84.7,416.7 L81.6,411.3 L78.5,405.8 L75.3,400.4 L72.2,394.9 L69.0,389.5 L65.9,384.0 L62.7,378.6 L61.2,375.9" stroke="#eac6fc" stroke-width="3.95" fill="none"/>
<polygon points="56.4,367.7 65.7,375.0 58.2,379.3" fill="#eac6fc" stroke="#eac6fc" stroke-width="0.8" stroke-linejoin="miter"/>
<path d="M49.4,369.1 L51.0,375.0 L52.6,380.9 L54.2,386.8 L55.8,392.7 L57.3,398.6 L58.9,404.5 L60.5,410.5 L62.1,416.4 L63.7,422.3 L65.3,428.2 L66.8,434.1 L68.4,440.0 L70.0,445.9 L71.6,451.8 L73.2,457.7 L74.8,463.6 L76.4,469.6 L77.9,475.5 L79.5,481.4 L81.1,487.3 L82.7,493.2 L84.3,499.1 L85.9,505.0 L87.4,510.9 L89.0,516.8 L90.6,522.7 L92.2,528.7 L93.8,534.6 L95.4,540.5 L96.9,546.4 L98.5,552.3 L100.1,558.2 L101.7,564.1 L103.3,570.0 L104.9,575.9 L106.4,581.8 L108.0,587.8 L109.6,593.7 L111.2,599.6 L112.8,605.5 L114.4,611.4 L115.9,617.3 L117.5,623.2 L119.1,629.1 L120.7,635.0 L122.3,641.0 L123.9,646.9 L125.4,652.8 L127.0,658.7 L128.6,664.6 L130.2,670.5 L131.8,676.4 L133.4,682.3 L134.9,688.2 L136.5,694.1 L138.1,700.1 L139.7,706.0 L141.3,711.9 L142.9,717.8 L144.4,723.7 L146.0,729.6 L147.6,735.5 L148.9,740.3" stroke="#eac6fc" stroke-width="3.95" fill="none"/>
<polygon points="151.4,749.5 144.4,740.0 152.7,737.7" fill="#eac6fc" stroke="#eac6fc" stroke-width="0.8" stroke-linejoin="miter"/>
<path d="M57.2,599.4 L60.2,604.6 L63.3,609.8 L66.3,615.1 L69.3,620.3 L72.3,625.5 L75.3,630.8 L78.4,636.0 L81.4,641.3 L84.4,646.5 L87.4,651.7 L90.5,657.0 L93.5,662.2 L96.5,667.4 L99.5,672.7 L102.6,677.9 L105.6,683.1 L108.6,688.4 L111.6,693.6 L114.6,698.9 L117.7,704.1 L120.7,709.3 L123.7,714.6 L126.7,719.8 L129.8,725.0 L132.8,730.3 L135.8,735.5 L139.3,741.5" stroke="#e0a8fc" stroke-width="3.95" fill="none"/>
<polygon points="144.0,749.7 134.8,742.3 142.2,738.0" fill="#e0a8fc" stroke="#e0a8fc" stroke-width="0.8" stroke-linejoin="miter"/>
<path d="M854.9,586.9 L848.4,588.6 L841.8,590.4 L835.3,592.1 L828.8,593.9 L822.3,595.6 L815.8,597.4 L809.3,599.1 L802.8,600.9 L796.2,602.6 L789.7,604.3 L783.2,606.1 L776.7,607.8 L770.2,609.6 L763.7,611.3 L757.2,613.1 L750.6,614.8 L744.1,616.6 L737.6,618.3 L731.1,620.1 L724.6,621.8 L718.1,623.5 L711.6,625.3 L705.0,627.0 L698.5,628.8 L692.0,630.5 L685.5,632.3 L679.0,634.0 L672.5,635.8 L666.0,637.5 L659.4,639.3 L652.9,641.0 L646.4,642.7 L639.9,644.5 L633.4,646.2 L626.9,648.0 L620.4,649.7 L613.8,651.5 L607.3,653.2 L600.8,655.0 L594.3,656.7 L587.8,658.5 L581.3,660.2 L574.8,661.9 L568.2,663.7 L561.7,665.4 L555.2,667.2 L548.7,668.9 L542.2,670.7 L535.7,672.4 L529.2,674.2 L522.6,675.9 L516.1,677.7 L509.6,679.4 L503.1,681.1 L496.6,682.9 L490.1,684.6 L483.6,686.4 L477.0,688.1 L470.5,689.9 L464.0,691.6 L457.5,693.4 L451.0,695.1 L444.5,696.9 L438.0,698.6 L431.4,700.4 L424.9,702.1 L418.4,703.8 L411.9,705.6 L405.4,707.3 L398.9,709.1 L392.4,710.8 L385.8,712.6 L379.3,714.3 L372.8,716.1 L366.3,717.8 L359.8,719.6 L353.3,721.3 L346.8,723.0 L340.2,724.8 L333.7,726.5 L327.2,728.3 L320.7,730.0 L314.2,731.8 L307.7,733.5 L301.2,735.3 L294.6,737.0 L288.1,738.8 L281.6,740.5 L275.1,742.2 L268.6,744.0 L262.1,745.7 L255.6,747.5 L249.0,749.2 L242.5,751.0 L236.0,752.7 L229.5,754.5 L223.0,756.2 L216.5,758.0 L210.0,759.7 L203.3,761.5" stroke="#e4b4fc" stroke-width="3.95" fill="none"/>
<polygon points="194.1,763.9 203.6,756.9 205.9,765.2" fill="#e4b4fc" stroke="#e4b4fc" stroke-width="0.8" stroke-linejoin="miter"/>
<path d="M749.4,773.7 L743.1,773.7 L736.8,773.7 L730.5,773.7 L724.2,773.7 L717.9,773.7 L711.6,773.7 L705.4,773.7 L699.1,773.7 L692.8,773.7 L686.5,773.7 L680.2,773.7 L673.9,773.7 L667.6,773.7 L661.3,773.7 L655.0,773.7 L648.7,773.7 L642.4,773.7 L636.1,773.7 L629.8,773.7 L623.5,773.7 L617.2,773.7 L611.0,773.7 L604.7,773.7 L598.4,773.7 L592.1,773.7 L585.8,773.7 L579.5,773.7 L573.2,773.7 L566.9,773.7 L560.6,773.7 L554.3,773.7 L548.0,773.7 L541.7,773.7 L535.4,773.7 L529.1,773.7 L522.8,773.7 L516.6,773.7 L510.3,773.7 L504.0,773.7 L497.7,773.7 L491.4,773.7 L485.1,773.7 L478.8,773.7 L472.5,773.7 L466.2,773.7 L459.9,773.7 L453.6,773.7 L447.3,773.7 L441.0,773.7 L434.7,773.7 L428.4,773.7 L422.2,773.7 L415.9,773.7 L409.6,773.7 L403.3,773.7 L397.0,773.7 L390.7,773.7 L384.4,773.7 L378.1,773.7 L371.8,773.7 L365.5,773.7 L359.2,773.7 L352.9,773.7 L346.6,773.7 L340.3,773.7 L334.0,773.7 L327.8,773.7 L321.5,773.7 L315.2,773.7 L308.9,773.7 L302.6,773.7 L296.3,773.7 L290.0,773.7 L283.7,773.7 L277.4,773.7 L271.1,773.7 L264.8,773.7 L258.5,773.7 L252.2,773.7 L245.9,773.7 L239.6,773.7 L233.4,773.7 L227.1,773.7 L220.8,773.7 L214.5,773.7 L208.2,773.7 L204.3,773.7" stroke="#e0a8fc" stroke-width="3.95" fill="none"/>
<polygon points="194.8,773.7 205.8,769.4 205.8,778.0" fill="#e0a8fc" stroke="#e0a8fc" stroke-width="0.8" stroke-linejoin="miter"/>
<path d="M319.7,867.1 L314.4,864.1 L309.2,861.1 L304.0,858.0 L298.7,855.0 L293.5,852.0 L288.3,849.0 L283.0,845.9 L277.8,842.9 L272.5,839.9 L267.3,836.9 L262.1,833.8 L256.8,830.8 L251.6,827.8 L246.4,824.8 L241.1,821.7 L235.9,818.7 L230.7,815.7 L225.4,812.7 L220.2,809.7 L214.9,806.6 L209.7,803.6 L204.5,800.6 L202.5,799.4" stroke="#e0a8fc" stroke-width="3.95" fill="none"/>
<polygon points="194.2,794.7 205.9,796.5 201.6,803.9" fill="#e0a8fc" stroke="#e0a8fc" stroke-width="0.8" stroke-linejoin="miter"/>
<path d="M395.0,888.8 L401.1,888.8 L407.1,888.8 L413.2,888.8 L419.2,888.8 L425.3,888.8 L431.3,888.8 L437.4,888.8 L443.4,888.8 L449.5,888.8 L455.5,888.8 L461.6,888.8 L467.6,888.8 L473.7,888.8 L479.7,888.8 L485.7,888.8 L491.8,888.8 L497.8,888.8 L503.9,888.8 L509.9,888.8 L516.0,888.8 L522.0,888.8 L528.1,888.8 L530.1,888.8" stroke="#eac6fc" stroke-width="3.95" fill="none"/>
<polygon points="539.6,888.8 528.6,893.1 528.6,884.5" fill="#eac6fc" stroke="#eac6fc" stroke-width="0.8" stroke-linejoin="miter"/>
<path d="M631.1,863.8 L636.3,860.8 L641.5,857.7 L646.8,854.7 L652.0,851.7 L657.2,848.7 L662.5,845.6 L667.7,842.6 L673.0,839.6 L678.2,836.6 L683.4,833.6 L688.7,830.5 L693.9,827.5 L699.1,824.5 L704.4,821.5 L709.6,818.4 L714.8,815.4 L720.1,812.4 L725.3,809.4 L730.6,806.3 L735.8,803.3 L741.0,800.3 L742.5,799.4" stroke="#eac6fc" stroke-width="3.95" fill="none"/>
<polygon points="750.8,794.7 743.4,803.9 739.1,796.5" fill="#eac6fc" stroke="#eac6fc" stroke-width="0.8" stroke-linejoin="miter"/>
<path d="M332.2,54.3 L327.8,58.7 L323.5,63.0 L319.2,67.3 L314.8,71.6 L310.5,76.0 L306.2,80.3 L301.9,84.6 L297.5,88.9 L293.2,93.3 L288.9,97.6 L284.6,101.9 L280.2,106.3 L275.9,110.6 L271.6,114.9 L267.3,119.2 L262.9,123.6 L258.6,127.9 L254.3,132.2 L249.9,136.5 L245.6,140.9 L241.3,145.2 L237.0,149.5 L232.6,153.8 L228.3,158.2 L224.0,162.5 L219.7,166.8 L215.3,171.2 L211.0,175.5 L206.7,179.8 L202.4,184.1 L198.0,188.5 L193.7,192.8 L189.4,197.1 L185.0,201.4 L180.7,205.8 L176.4,210.1 L172.1,214.4 L167.7,218.7 L163.4,223.1 L159.1,227.4 L154.8,231.7 L150.4,236.1 L146.1,240.4 L141.8,244.7 L137.5,249.0 L133.1,253.4 L128.8,257.7 L124.5,262.0 L120.1,266.3 L115.8,270.7 L111.5,275.0 L107.2,279.3 L102.8,283.6 L98.5,288.0 L94.2,292.3 L89.9,296.6 L85.5,301.0 L81.2,305.3 L76.9,309.6 L73.4,313.1" stroke="#c040f8" stroke-width="4" fill="none"/>
<polygon points="66.7,319.8 71.4,309.0 77.5,315.1" fill="#c040f8" stroke="#c040f8" stroke-width="0.8" stroke-linejoin="miter"/>
<path d="M397.5,20.2 C428.5,18.2 428.5,41.2 408.5,37.5" stroke="#c040f8" stroke-width="3.8" fill="none"/>
<polygon points="398.5,38.4 409.3,32.6 410.4,41.3" fill="#c040f8" stroke="#c040f8" stroke-width="0.8" stroke-linejoin="miter"/>
<path d="M193.6,135.3 C224.6,133.3 224.6,156.3 204.6,152.6" stroke="#e4b4fc" stroke-width="3.95" fill="none"/>
<polygon points="194.6,153.5 205.5,147.8 206.6,156.5" fill="#e4b4fc" stroke="#e4b4fc" stroke-width="0.8" stroke-linejoin="miter"/>
<path d="M823.0,135.3 C854.0,133.3 854.0,156.3 834.0,152.6" stroke="#e0a8fc" stroke-width="3.95" fill="none"/>
<polygon points="824.0,153.5 834.8,147.8 835.9,156.5" fill="#e0a8fc" stroke="#e0a8fc" stroke-width="0.8" stroke-linejoin="miter"/>
<path d="M78.5,334.8 C109.5,332.8 109.5,355.8 89.5,352.1" stroke="#e0a8fc" stroke-width="3.95" fill="none"/>
<polygon points="79.5,353.0 90.3,347.3 91.4,356.0" fill="#e0a8fc" stroke="#e0a8fc" stroke-width="0.8" stroke-linejoin="miter"/>
<path d="M938.1,334.8 C969.1,332.8 969.1,355.8 949.1,352.1" stroke="#e4b4fc" stroke-width="3.95" fill="none"/>
<polygon points="939.1,353.0 950.0,347.3 951.0,356.0" fill="#e4b4fc" stroke="#e4b4fc" stroke-width="0.8" stroke-linejoin="miter"/>
</g>
</svg>
</body></html>
